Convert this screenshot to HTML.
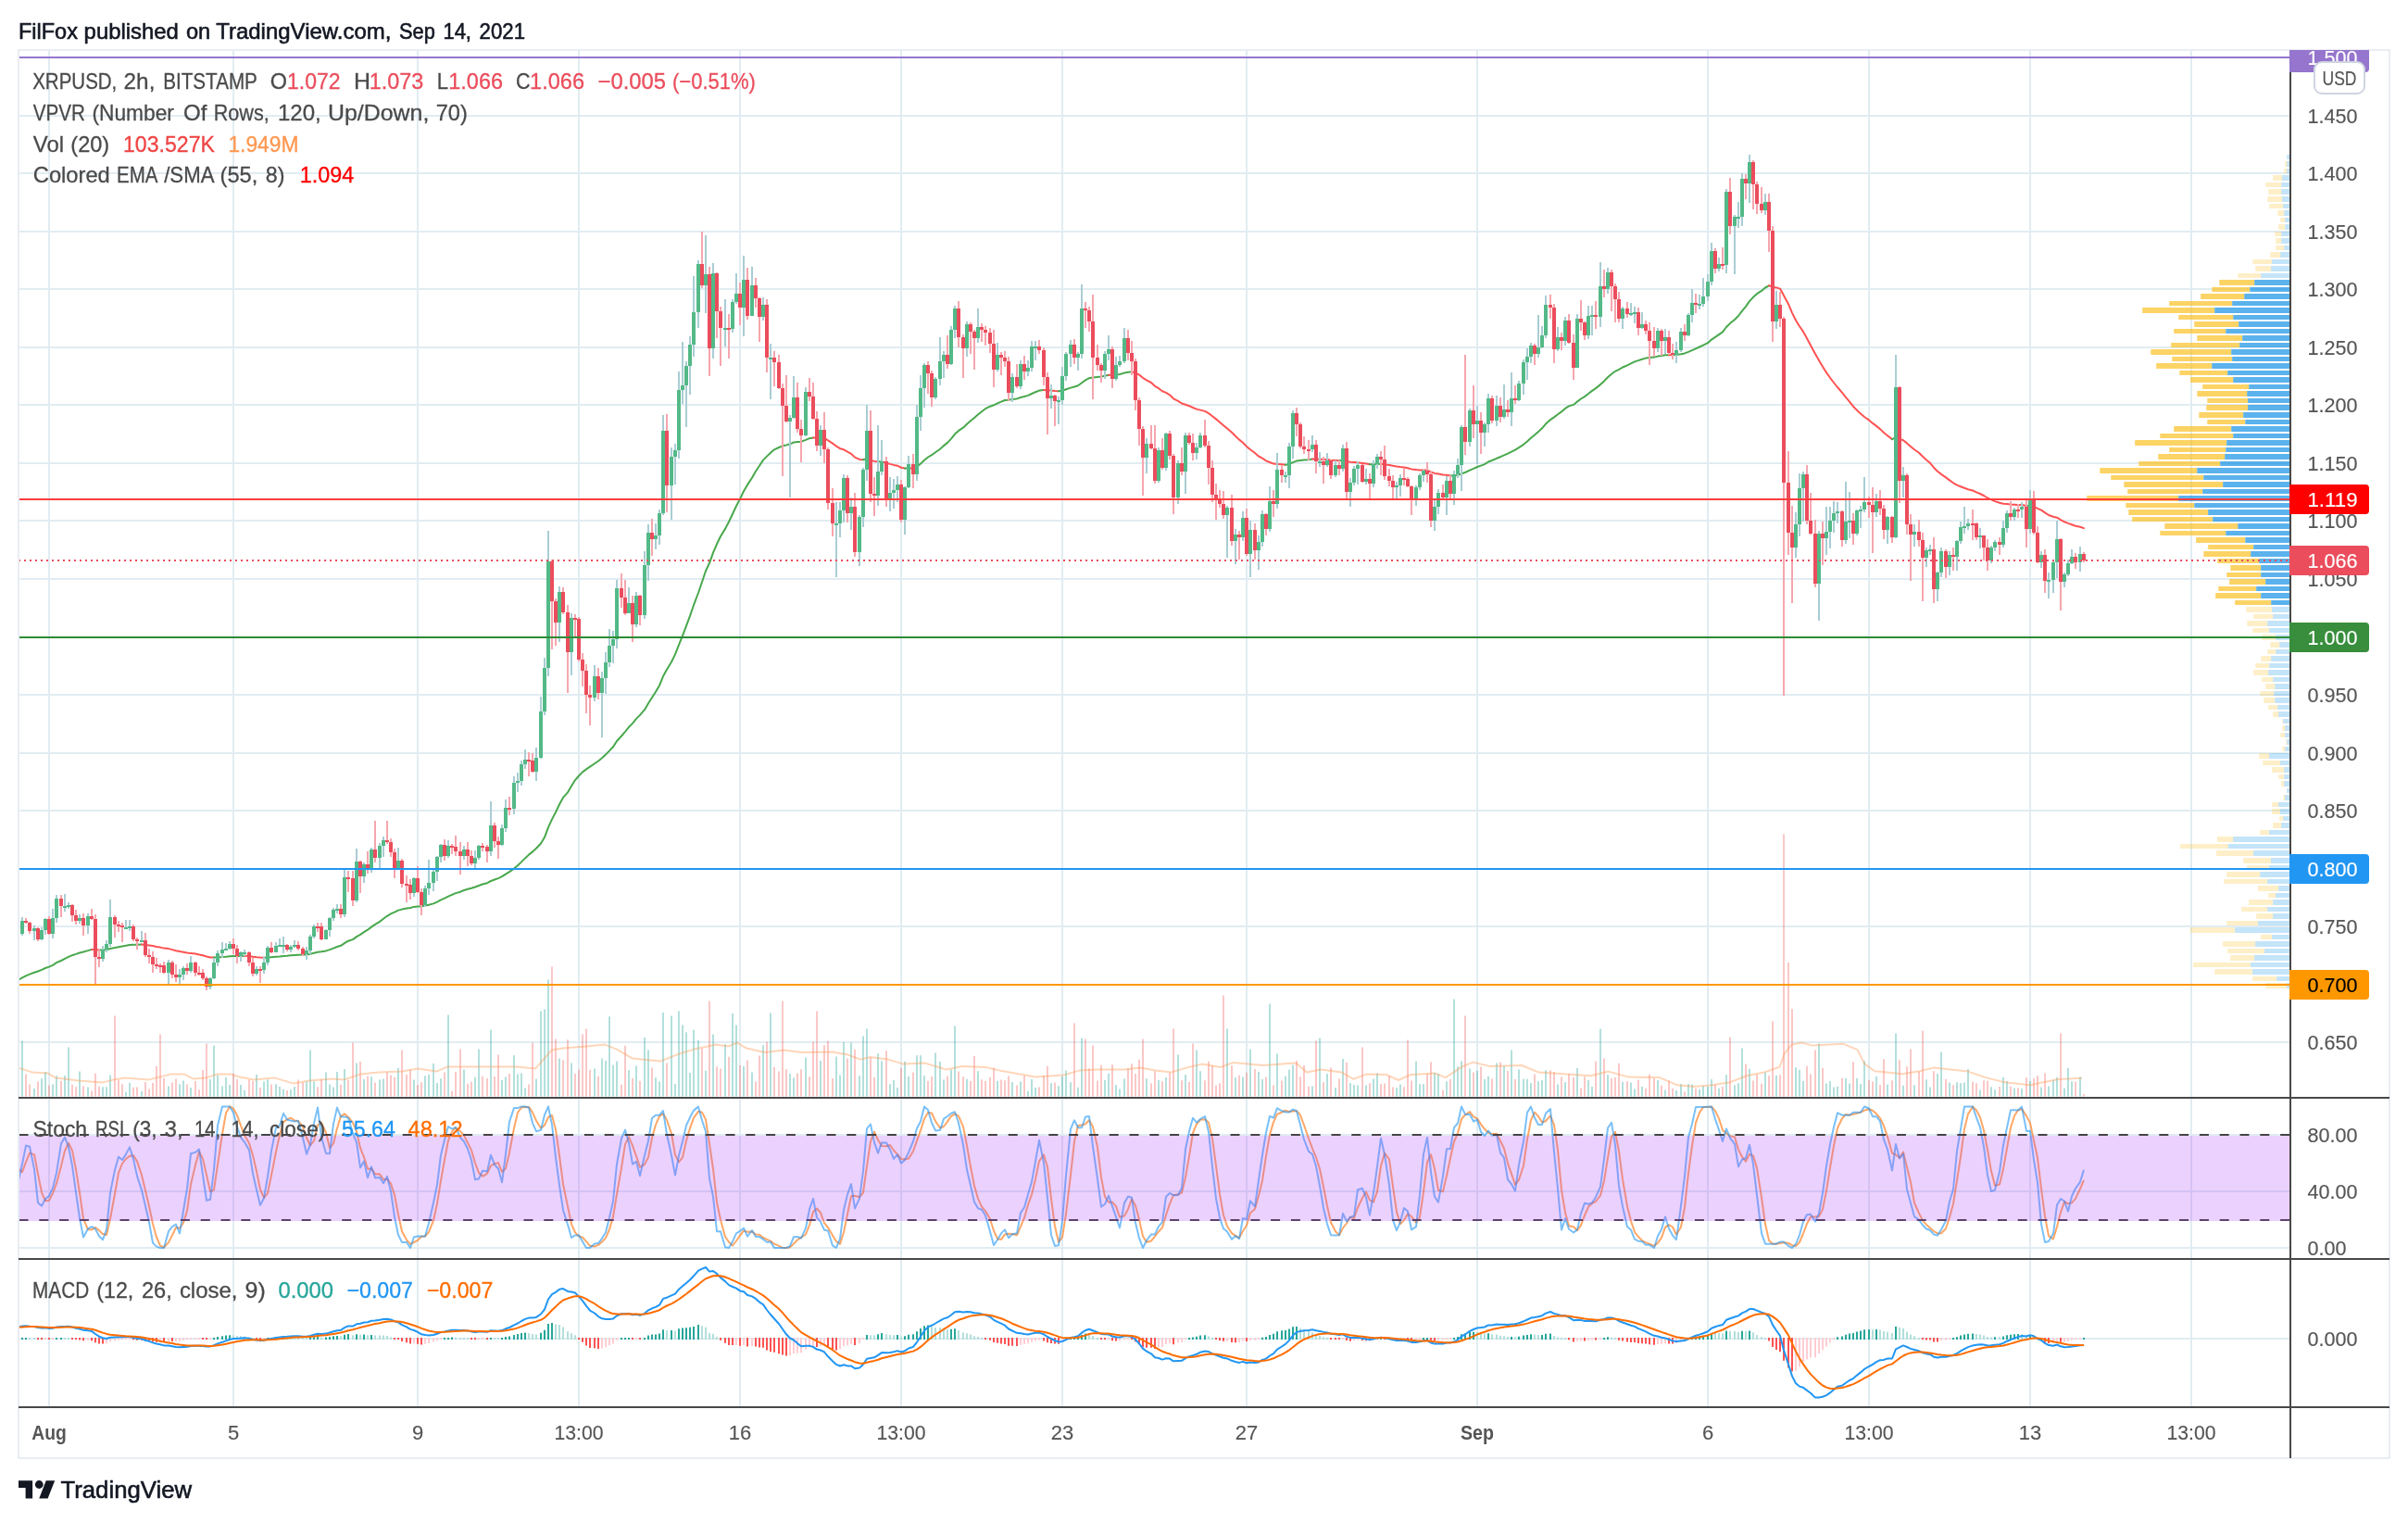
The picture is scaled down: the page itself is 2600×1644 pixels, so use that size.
<!DOCTYPE html>
<html><head><meta charset="utf-8"><title>XRPUSD chart</title><style>html,body{margin:0;padding:0;background:#fff}body{width:2600px;height:1644px;overflow:hidden}</style></head><body>
<svg width="2600" height="1644" viewBox="0 0 2600 1644" style="display:block;will-change:transform">
<defs><clipPath id="cpm"><rect x="21" y="55" width="2451" height="1129"/></clipPath><clipPath id="cps"><rect x="21" y="1186" width="2451" height="172"/></clipPath><clipPath id="cpd"><rect x="21" y="1360" width="2451" height="158"/></clipPath></defs>
<rect width="2600" height="1644" fill="#fff"/>
<path d="M53 55V1518M252 55V1518M451 55V1518M625 55V1518M799 55V1518M973 55V1518M1147 55V1518M1346 55V1518M1595 55V1518M1844 55V1518M2018 55V1518M2192 55V1518M2366 55V1518M21 125H2472M21 187H2472M21 250H2472M21 312H2472M21 375H2472M21 437H2472M21 500H2472M21 562H2472M21 625H2472M21 688H2472M21 750H2472M21 813H2472M21 875H2472M21 938H2472M21 1000H2472M21 1063H2472M21 1125H2472M21 1225H2472M21 1286H2472M21 1347H2472M21 1445H2472" stroke="#e1ecf2" stroke-width="2" fill="none"/>
<rect x="2469.3" y="167" width="0.0" height="5" fill="#fbc123" fill-opacity="0.25"/>
<rect x="2469.3" y="167" width="2.7" height="5" fill="#1592e6" fill-opacity="0.25"/>
<rect x="2467.2" y="174" width="2.1" height="6" fill="#fbc123" fill-opacity="0.25"/>
<rect x="2469.3" y="174" width="2.7" height="6" fill="#1592e6" fill-opacity="0.25"/>
<rect x="2466.3" y="182" width="3.0" height="5" fill="#fbc123" fill-opacity="0.25"/>
<rect x="2469.3" y="182" width="2.7" height="5" fill="#1592e6" fill-opacity="0.25"/>
<rect x="2454.2" y="189" width="10.0" height="6" fill="#fbc123" fill-opacity="0.25"/>
<rect x="2464.1" y="189" width="7.9" height="6" fill="#1592e6" fill-opacity="0.25"/>
<rect x="2446.3" y="197" width="16.9" height="5" fill="#fbc123" fill-opacity="0.25"/>
<rect x="2463.2" y="197" width="8.8" height="5" fill="#1592e6" fill-opacity="0.25"/>
<rect x="2449.3" y="204" width="13.9" height="6" fill="#fbc123" fill-opacity="0.25"/>
<rect x="2463.2" y="204" width="8.8" height="6" fill="#1592e6" fill-opacity="0.25"/>
<rect x="2448.3" y="212" width="15.9" height="6" fill="#fbc123" fill-opacity="0.25"/>
<rect x="2464.1" y="212" width="7.9" height="6" fill="#1592e6" fill-opacity="0.25"/>
<rect x="2450.2" y="220" width="15.0" height="5" fill="#fbc123" fill-opacity="0.25"/>
<rect x="2465.2" y="220" width="6.8" height="5" fill="#1592e6" fill-opacity="0.25"/>
<rect x="2459.3" y="227" width="6.9" height="6" fill="#fbc123" fill-opacity="0.25"/>
<rect x="2466.3" y="227" width="5.7" height="6" fill="#1592e6" fill-opacity="0.25"/>
<rect x="2462.2" y="235" width="5.0" height="5" fill="#fbc123" fill-opacity="0.25"/>
<rect x="2467.2" y="235" width="4.8" height="5" fill="#1592e6" fill-opacity="0.25"/>
<rect x="2460.2" y="242" width="6.9" height="6" fill="#fbc123" fill-opacity="0.25"/>
<rect x="2467.2" y="242" width="4.8" height="6" fill="#1592e6" fill-opacity="0.25"/>
<rect x="2456.3" y="250" width="6.9" height="5" fill="#fbc123" fill-opacity="0.25"/>
<rect x="2463.2" y="250" width="8.8" height="5" fill="#1592e6" fill-opacity="0.25"/>
<rect x="2457.2" y="257" width="6.0" height="6" fill="#fbc123" fill-opacity="0.25"/>
<rect x="2463.2" y="257" width="8.8" height="6" fill="#1592e6" fill-opacity="0.25"/>
<rect x="2457.2" y="265" width="9.1" height="5" fill="#fbc123" fill-opacity="0.25"/>
<rect x="2466.3" y="265" width="5.7" height="5" fill="#1592e6" fill-opacity="0.25"/>
<rect x="2451.3" y="272" width="10.9" height="6" fill="#fbc123" fill-opacity="0.25"/>
<rect x="2462.2" y="272" width="9.8" height="6" fill="#1592e6" fill-opacity="0.25"/>
<rect x="2432.3" y="280" width="20.8" height="5" fill="#fbc123" fill-opacity="0.25"/>
<rect x="2453.1" y="280" width="18.9" height="5" fill="#1592e6" fill-opacity="0.25"/>
<rect x="2435.3" y="287" width="16.9" height="6" fill="#fbc123" fill-opacity="0.25"/>
<rect x="2452.2" y="287" width="19.8" height="6" fill="#1592e6" fill-opacity="0.25"/>
<rect x="2416.3" y="295" width="24.9" height="5" fill="#fbc123" fill-opacity="0.25"/>
<rect x="2441.2" y="295" width="30.8" height="5" fill="#1592e6" fill-opacity="0.25"/>
<rect x="2396.3" y="302" width="37.9" height="6" fill="#fbc123" fill-opacity="0.7"/>
<rect x="2434.2" y="302" width="37.8" height="6" fill="#1592e6" fill-opacity="0.7"/>
<rect x="2388.3" y="310" width="40.9" height="5" fill="#fbc123" fill-opacity="0.7"/>
<rect x="2429.3" y="310" width="42.7" height="5" fill="#1592e6" fill-opacity="0.7"/>
<rect x="2376.2" y="317" width="47.0" height="6" fill="#fbc123" fill-opacity="0.7"/>
<rect x="2423.2" y="317" width="48.8" height="6" fill="#1592e6" fill-opacity="0.7"/>
<rect x="2342.2" y="325" width="68.0" height="5" fill="#fbc123" fill-opacity="0.7"/>
<rect x="2410.2" y="325" width="61.8" height="5" fill="#1592e6" fill-opacity="0.7"/>
<rect x="2313.2" y="332" width="77.9" height="6" fill="#fbc123" fill-opacity="0.7"/>
<rect x="2391.2" y="332" width="80.8" height="6" fill="#1592e6" fill-opacity="0.7"/>
<rect x="2352.2" y="340" width="59.1" height="5" fill="#fbc123" fill-opacity="0.7"/>
<rect x="2411.3" y="340" width="60.7" height="5" fill="#1592e6" fill-opacity="0.7"/>
<rect x="2369.3" y="347" width="47.9" height="6" fill="#fbc123" fill-opacity="0.7"/>
<rect x="2417.2" y="347" width="54.8" height="6" fill="#1592e6" fill-opacity="0.7"/>
<rect x="2347.2" y="355" width="56.0" height="5" fill="#fbc123" fill-opacity="0.7"/>
<rect x="2403.3" y="355" width="68.7" height="5" fill="#1592e6" fill-opacity="0.7"/>
<rect x="2372.3" y="362" width="48.9" height="6" fill="#fbc123" fill-opacity="0.7"/>
<rect x="2421.2" y="362" width="50.8" height="6" fill="#1592e6" fill-opacity="0.7"/>
<rect x="2344.2" y="370" width="74.0" height="5" fill="#fbc123" fill-opacity="0.7"/>
<rect x="2418.2" y="370" width="53.8" height="5" fill="#1592e6" fill-opacity="0.7"/>
<rect x="2322.3" y="377" width="86.9" height="6" fill="#fbc123" fill-opacity="0.7"/>
<rect x="2409.2" y="377" width="62.8" height="6" fill="#1592e6" fill-opacity="0.7"/>
<rect x="2345.3" y="385" width="65.0" height="5" fill="#fbc123" fill-opacity="0.7"/>
<rect x="2410.2" y="385" width="61.8" height="5" fill="#1592e6" fill-opacity="0.7"/>
<rect x="2328.2" y="392" width="60.1" height="6" fill="#fbc123" fill-opacity="0.7"/>
<rect x="2388.3" y="392" width="83.7" height="6" fill="#1592e6" fill-opacity="0.7"/>
<rect x="2353.3" y="400" width="52.0" height="5" fill="#fbc123" fill-opacity="0.7"/>
<rect x="2405.2" y="400" width="66.8" height="5" fill="#1592e6" fill-opacity="0.7"/>
<rect x="2365.2" y="407" width="46.1" height="6" fill="#fbc123" fill-opacity="0.7"/>
<rect x="2411.3" y="407" width="60.7" height="6" fill="#1592e6" fill-opacity="0.7"/>
<rect x="2378.2" y="415" width="50.0" height="5" fill="#fbc123" fill-opacity="0.7"/>
<rect x="2428.2" y="415" width="43.8" height="5" fill="#1592e6" fill-opacity="0.7"/>
<rect x="2372.3" y="422" width="53.9" height="6" fill="#fbc123" fill-opacity="0.7"/>
<rect x="2426.2" y="422" width="45.8" height="6" fill="#1592e6" fill-opacity="0.7"/>
<rect x="2383.3" y="430" width="43.8" height="5" fill="#fbc123" fill-opacity="0.7"/>
<rect x="2427.1" y="430" width="44.9" height="5" fill="#1592e6" fill-opacity="0.7"/>
<rect x="2382.3" y="437" width="44.9" height="6" fill="#fbc123" fill-opacity="0.7"/>
<rect x="2427.1" y="437" width="44.9" height="6" fill="#1592e6" fill-opacity="0.7"/>
<rect x="2374.3" y="445" width="47.9" height="6" fill="#fbc123" fill-opacity="0.7"/>
<rect x="2422.2" y="445" width="49.8" height="6" fill="#1592e6" fill-opacity="0.7"/>
<rect x="2383.3" y="453" width="40.9" height="5" fill="#fbc123" fill-opacity="0.7"/>
<rect x="2424.3" y="453" width="47.7" height="5" fill="#1592e6" fill-opacity="0.7"/>
<rect x="2347.2" y="460" width="61.9" height="6" fill="#fbc123" fill-opacity="0.7"/>
<rect x="2409.2" y="460" width="62.8" height="6" fill="#1592e6" fill-opacity="0.7"/>
<rect x="2332.3" y="468" width="79.0" height="5" fill="#fbc123" fill-opacity="0.7"/>
<rect x="2411.3" y="468" width="60.7" height="5" fill="#1592e6" fill-opacity="0.7"/>
<rect x="2305.2" y="475" width="98.9" height="6" fill="#fbc123" fill-opacity="0.7"/>
<rect x="2404.2" y="475" width="67.8" height="6" fill="#1592e6" fill-opacity="0.7"/>
<rect x="2342.2" y="483" width="61.0" height="5" fill="#fbc123" fill-opacity="0.7"/>
<rect x="2403.3" y="483" width="68.7" height="5" fill="#1592e6" fill-opacity="0.7"/>
<rect x="2330.3" y="490" width="71.9" height="6" fill="#fbc123" fill-opacity="0.7"/>
<rect x="2402.2" y="490" width="69.8" height="6" fill="#1592e6" fill-opacity="0.7"/>
<rect x="2309.3" y="498" width="87.9" height="5" fill="#fbc123" fill-opacity="0.7"/>
<rect x="2397.2" y="498" width="74.8" height="5" fill="#1592e6" fill-opacity="0.7"/>
<rect x="2267.3" y="505" width="105.0" height="6" fill="#fbc123" fill-opacity="0.7"/>
<rect x="2372.3" y="505" width="99.7" height="6" fill="#1592e6" fill-opacity="0.7"/>
<rect x="2279.3" y="513" width="100.0" height="5" fill="#fbc123" fill-opacity="0.7"/>
<rect x="2379.3" y="513" width="92.7" height="5" fill="#1592e6" fill-opacity="0.7"/>
<rect x="2293.3" y="520" width="106.9" height="6" fill="#fbc123" fill-opacity="0.7"/>
<rect x="2400.2" y="520" width="71.8" height="6" fill="#1592e6" fill-opacity="0.7"/>
<rect x="2297.2" y="528" width="81.0" height="5" fill="#fbc123" fill-opacity="0.7"/>
<rect x="2378.2" y="528" width="93.8" height="5" fill="#1592e6" fill-opacity="0.7"/>
<rect x="2253.3" y="535" width="98.9" height="6" fill="#fbc123" fill-opacity="0.7"/>
<rect x="2352.2" y="535" width="119.8" height="6" fill="#1592e6" fill-opacity="0.7"/>
<rect x="2295.3" y="543" width="74.0" height="5" fill="#fbc123" fill-opacity="0.7"/>
<rect x="2369.3" y="543" width="102.7" height="5" fill="#1592e6" fill-opacity="0.7"/>
<rect x="2298.3" y="550" width="86.0" height="6" fill="#fbc123" fill-opacity="0.7"/>
<rect x="2384.2" y="550" width="87.8" height="6" fill="#1592e6" fill-opacity="0.7"/>
<rect x="2302.2" y="558" width="87.0" height="5" fill="#fbc123" fill-opacity="0.7"/>
<rect x="2389.2" y="558" width="82.8" height="5" fill="#1592e6" fill-opacity="0.7"/>
<rect x="2337.3" y="565" width="79.0" height="6" fill="#fbc123" fill-opacity="0.7"/>
<rect x="2416.3" y="565" width="55.7" height="6" fill="#1592e6" fill-opacity="0.7"/>
<rect x="2332.3" y="573" width="71.0" height="5" fill="#fbc123" fill-opacity="0.7"/>
<rect x="2403.3" y="573" width="68.7" height="5" fill="#1592e6" fill-opacity="0.7"/>
<rect x="2371.2" y="580" width="53.0" height="6" fill="#fbc123" fill-opacity="0.7"/>
<rect x="2424.3" y="580" width="47.7" height="6" fill="#1592e6" fill-opacity="0.7"/>
<rect x="2384.2" y="588" width="48.9" height="5" fill="#fbc123" fill-opacity="0.7"/>
<rect x="2433.2" y="588" width="38.8" height="5" fill="#1592e6" fill-opacity="0.7"/>
<rect x="2379.3" y="595" width="50.9" height="6" fill="#fbc123" fill-opacity="0.7"/>
<rect x="2430.2" y="595" width="41.8" height="6" fill="#1592e6" fill-opacity="0.7"/>
<rect x="2394.2" y="603" width="45.0" height="5" fill="#fbc123" fill-opacity="0.7"/>
<rect x="2439.2" y="603" width="32.8" height="5" fill="#1592e6" fill-opacity="0.7"/>
<rect x="2408.3" y="610" width="32.9" height="6" fill="#fbc123" fill-opacity="0.7"/>
<rect x="2441.2" y="610" width="30.8" height="6" fill="#1592e6" fill-opacity="0.7"/>
<rect x="2404.2" y="618" width="37.0" height="5" fill="#fbc123" fill-opacity="0.7"/>
<rect x="2441.2" y="618" width="30.8" height="5" fill="#1592e6" fill-opacity="0.7"/>
<rect x="2407.2" y="625" width="39.0" height="6" fill="#fbc123" fill-opacity="0.7"/>
<rect x="2446.2" y="625" width="25.8" height="6" fill="#1592e6" fill-opacity="0.7"/>
<rect x="2395.3" y="633" width="40.9" height="5" fill="#fbc123" fill-opacity="0.7"/>
<rect x="2436.2" y="633" width="35.8" height="5" fill="#1592e6" fill-opacity="0.7"/>
<rect x="2392.2" y="640" width="48.9" height="6" fill="#fbc123" fill-opacity="0.7"/>
<rect x="2441.2" y="640" width="30.8" height="6" fill="#1592e6" fill-opacity="0.7"/>
<rect x="2413.2" y="648" width="39.0" height="5" fill="#fbc123" fill-opacity="0.7"/>
<rect x="2452.2" y="648" width="19.8" height="5" fill="#1592e6" fill-opacity="0.7"/>
<rect x="2425.2" y="655" width="27.9" height="6" fill="#fbc123" fill-opacity="0.25"/>
<rect x="2453.1" y="655" width="18.9" height="6" fill="#1592e6" fill-opacity="0.25"/>
<rect x="2433.2" y="663" width="21.0" height="5" fill="#fbc123" fill-opacity="0.25"/>
<rect x="2454.2" y="663" width="17.8" height="5" fill="#1592e6" fill-opacity="0.25"/>
<rect x="2426.2" y="670" width="22.1" height="6" fill="#fbc123" fill-opacity="0.25"/>
<rect x="2448.3" y="670" width="23.7" height="6" fill="#1592e6" fill-opacity="0.25"/>
<rect x="2432.3" y="678" width="18.0" height="5" fill="#fbc123" fill-opacity="0.25"/>
<rect x="2450.2" y="678" width="21.8" height="5" fill="#1592e6" fill-opacity="0.25"/>
<rect x="2442.2" y="685" width="15.0" height="6" fill="#fbc123" fill-opacity="0.25"/>
<rect x="2457.2" y="685" width="14.8" height="6" fill="#1592e6" fill-opacity="0.25"/>
<rect x="2451.3" y="693" width="10.0" height="6" fill="#fbc123" fill-opacity="0.25"/>
<rect x="2461.3" y="693" width="10.7" height="6" fill="#1592e6" fill-opacity="0.25"/>
<rect x="2448.3" y="701" width="8.9" height="5" fill="#fbc123" fill-opacity="0.25"/>
<rect x="2457.2" y="701" width="14.8" height="5" fill="#1592e6" fill-opacity="0.25"/>
<rect x="2441.2" y="708" width="11.0" height="6" fill="#fbc123" fill-opacity="0.25"/>
<rect x="2452.2" y="708" width="19.8" height="6" fill="#1592e6" fill-opacity="0.25"/>
<rect x="2435.3" y="716" width="15.0" height="5" fill="#fbc123" fill-opacity="0.25"/>
<rect x="2450.2" y="716" width="21.8" height="5" fill="#1592e6" fill-opacity="0.25"/>
<rect x="2433.2" y="723" width="16.0" height="6" fill="#fbc123" fill-opacity="0.25"/>
<rect x="2449.2" y="723" width="22.8" height="6" fill="#1592e6" fill-opacity="0.25"/>
<rect x="2442.2" y="731" width="11.9" height="5" fill="#fbc123" fill-opacity="0.25"/>
<rect x="2454.2" y="731" width="17.8" height="5" fill="#1592e6" fill-opacity="0.25"/>
<rect x="2446.2" y="738" width="10.1" height="6" fill="#fbc123" fill-opacity="0.25"/>
<rect x="2456.3" y="738" width="15.7" height="6" fill="#1592e6" fill-opacity="0.25"/>
<rect x="2440.3" y="746" width="15.0" height="5" fill="#fbc123" fill-opacity="0.25"/>
<rect x="2455.2" y="746" width="16.8" height="5" fill="#1592e6" fill-opacity="0.25"/>
<rect x="2444.2" y="753" width="12.1" height="6" fill="#fbc123" fill-opacity="0.25"/>
<rect x="2456.3" y="753" width="15.7" height="6" fill="#1592e6" fill-opacity="0.25"/>
<rect x="2449.2" y="761" width="10.0" height="5" fill="#fbc123" fill-opacity="0.25"/>
<rect x="2459.2" y="761" width="12.8" height="5" fill="#1592e6" fill-opacity="0.25"/>
<rect x="2454.2" y="768" width="6.0" height="6" fill="#fbc123" fill-opacity="0.25"/>
<rect x="2460.2" y="768" width="11.8" height="6" fill="#1592e6" fill-opacity="0.25"/>
<rect x="2464.3" y="776" width="0.9" height="5" fill="#fbc123" fill-opacity="0.25"/>
<rect x="2465.2" y="776" width="6.8" height="5" fill="#1592e6" fill-opacity="0.25"/>
<rect x="2464.3" y="783" width="2.9" height="6" fill="#fbc123" fill-opacity="0.25"/>
<rect x="2467.2" y="783" width="4.8" height="6" fill="#1592e6" fill-opacity="0.25"/>
<rect x="2462.2" y="791" width="5.0" height="5" fill="#fbc123" fill-opacity="0.25"/>
<rect x="2467.2" y="791" width="4.8" height="5" fill="#1592e6" fill-opacity="0.25"/>
<rect x="2468.2" y="798" width="1.1" height="6" fill="#fbc123" fill-opacity="0.25"/>
<rect x="2469.3" y="798" width="2.7" height="6" fill="#1592e6" fill-opacity="0.25"/>
<rect x="2464.3" y="806" width="2.9" height="5" fill="#fbc123" fill-opacity="0.25"/>
<rect x="2467.2" y="806" width="4.8" height="5" fill="#1592e6" fill-opacity="0.25"/>
<rect x="2439.1" y="813" width="10.9" height="6" fill="#fbc123" fill-opacity="0.25"/>
<rect x="2450.0" y="813" width="22.0" height="6" fill="#1592e6" fill-opacity="0.25"/>
<rect x="2443.2" y="821" width="18.8" height="5" fill="#fbc123" fill-opacity="0.25"/>
<rect x="2461.9" y="821" width="10.1" height="5" fill="#1592e6" fill-opacity="0.25"/>
<rect x="2453.1" y="828" width="13.1" height="6" fill="#fbc123" fill-opacity="0.25"/>
<rect x="2466.2" y="828" width="5.8" height="6" fill="#1592e6" fill-opacity="0.25"/>
<rect x="2460.2" y="836" width="6.0" height="5" fill="#fbc123" fill-opacity="0.25"/>
<rect x="2466.2" y="836" width="5.8" height="5" fill="#1592e6" fill-opacity="0.25"/>
<rect x="2463.1" y="843" width="3.1" height="6" fill="#fbc123" fill-opacity="0.25"/>
<rect x="2466.2" y="843" width="5.8" height="6" fill="#1592e6" fill-opacity="0.25"/>
<rect x="2469.1" y="851" width="0.0" height="5" fill="#fbc123" fill-opacity="0.25"/>
<rect x="2469.1" y="851" width="2.9" height="5" fill="#1592e6" fill-opacity="0.25"/>
<rect x="2465.2" y="858" width="1.9" height="6" fill="#fbc123" fill-opacity="0.25"/>
<rect x="2467.0" y="858" width="5.0" height="6" fill="#1592e6" fill-opacity="0.25"/>
<rect x="2453.1" y="866" width="7.2" height="5" fill="#fbc123" fill-opacity="0.25"/>
<rect x="2460.2" y="866" width="11.8" height="5" fill="#1592e6" fill-opacity="0.25"/>
<rect x="2453.1" y="873" width="8.9" height="6" fill="#fbc123" fill-opacity="0.25"/>
<rect x="2461.9" y="873" width="10.1" height="6" fill="#1592e6" fill-opacity="0.25"/>
<rect x="2461.1" y="881" width="4.1" height="5" fill="#fbc123" fill-opacity="0.25"/>
<rect x="2465.2" y="881" width="6.8" height="5" fill="#1592e6" fill-opacity="0.25"/>
<rect x="2454.1" y="888" width="9.0" height="6" fill="#fbc123" fill-opacity="0.25"/>
<rect x="2463.1" y="888" width="8.9" height="6" fill="#1592e6" fill-opacity="0.25"/>
<rect x="2440.1" y="896" width="9.9" height="5" fill="#fbc123" fill-opacity="0.25"/>
<rect x="2450.0" y="896" width="22.0" height="5" fill="#1592e6" fill-opacity="0.25"/>
<rect x="2394.0" y="903" width="17.1" height="6" fill="#fbc123" fill-opacity="0.25"/>
<rect x="2411.1" y="903" width="60.9" height="6" fill="#1592e6" fill-opacity="0.25"/>
<rect x="2354.0" y="911" width="51.9" height="5" fill="#fbc123" fill-opacity="0.25"/>
<rect x="2405.9" y="911" width="66.1" height="5" fill="#1592e6" fill-opacity="0.25"/>
<rect x="2393.1" y="918" width="39.9" height="6" fill="#fbc123" fill-opacity="0.25"/>
<rect x="2433.1" y="918" width="38.9" height="6" fill="#1592e6" fill-opacity="0.25"/>
<rect x="2422.2" y="926" width="29.9" height="6" fill="#fbc123" fill-opacity="0.25"/>
<rect x="2452.0" y="926" width="20.0" height="6" fill="#1592e6" fill-opacity="0.25"/>
<rect x="2426.1" y="934" width="23.9" height="5" fill="#fbc123" fill-opacity="0.25"/>
<rect x="2450.0" y="934" width="22.0" height="5" fill="#1592e6" fill-opacity="0.25"/>
<rect x="2404.1" y="941" width="36.0" height="6" fill="#fbc123" fill-opacity="0.25"/>
<rect x="2440.1" y="941" width="31.9" height="6" fill="#1592e6" fill-opacity="0.25"/>
<rect x="2401.2" y="949" width="46.9" height="5" fill="#fbc123" fill-opacity="0.25"/>
<rect x="2448.1" y="949" width="23.9" height="5" fill="#1592e6" fill-opacity="0.25"/>
<rect x="2438.0" y="956" width="22.2" height="6" fill="#fbc123" fill-opacity="0.25"/>
<rect x="2460.2" y="956" width="11.8" height="6" fill="#1592e6" fill-opacity="0.25"/>
<rect x="2449.1" y="964" width="8.0" height="5" fill="#fbc123" fill-opacity="0.25"/>
<rect x="2457.1" y="964" width="14.9" height="5" fill="#1592e6" fill-opacity="0.25"/>
<rect x="2428.1" y="971" width="25.9" height="6" fill="#fbc123" fill-opacity="0.25"/>
<rect x="2454.1" y="971" width="17.9" height="6" fill="#1592e6" fill-opacity="0.25"/>
<rect x="2420.1" y="979" width="28.0" height="5" fill="#fbc123" fill-opacity="0.25"/>
<rect x="2448.1" y="979" width="23.9" height="5" fill="#1592e6" fill-opacity="0.25"/>
<rect x="2436.2" y="986" width="17.9" height="6" fill="#fbc123" fill-opacity="0.25"/>
<rect x="2454.1" y="986" width="17.9" height="6" fill="#1592e6" fill-opacity="0.25"/>
<rect x="2404.1" y="994" width="34.0" height="5" fill="#fbc123" fill-opacity="0.25"/>
<rect x="2438.0" y="994" width="34.0" height="5" fill="#1592e6" fill-opacity="0.25"/>
<rect x="2365.0" y="1001" width="48.1" height="6" fill="#fbc123" fill-opacity="0.25"/>
<rect x="2413.1" y="1001" width="58.9" height="6" fill="#1592e6" fill-opacity="0.25"/>
<rect x="2441.1" y="1009" width="11.9" height="5" fill="#fbc123" fill-opacity="0.25"/>
<rect x="2453.1" y="1009" width="18.9" height="5" fill="#1592e6" fill-opacity="0.25"/>
<rect x="2400.1" y="1016" width="35.0" height="6" fill="#fbc123" fill-opacity="0.25"/>
<rect x="2435.1" y="1016" width="36.9" height="6" fill="#1592e6" fill-opacity="0.25"/>
<rect x="2405.1" y="1024" width="39.9" height="5" fill="#fbc123" fill-opacity="0.25"/>
<rect x="2445.0" y="1024" width="27.0" height="5" fill="#1592e6" fill-opacity="0.25"/>
<rect x="2408.2" y="1031" width="25.9" height="6" fill="#fbc123" fill-opacity="0.25"/>
<rect x="2434.1" y="1031" width="37.9" height="6" fill="#1592e6" fill-opacity="0.25"/>
<rect x="2368.0" y="1039" width="62.0" height="5" fill="#fbc123" fill-opacity="0.25"/>
<rect x="2430.0" y="1039" width="42.0" height="5" fill="#1592e6" fill-opacity="0.25"/>
<rect x="2391.1" y="1046" width="41.0" height="6" fill="#fbc123" fill-opacity="0.25"/>
<rect x="2432.1" y="1046" width="39.9" height="6" fill="#1592e6" fill-opacity="0.25"/>
<rect x="2432.1" y="1054" width="26.1" height="5" fill="#fbc123" fill-opacity="0.25"/>
<rect x="2458.2" y="1054" width="13.8" height="5" fill="#1592e6" fill-opacity="0.25"/>
<rect x="2446.1" y="1061" width="23.0" height="6" fill="#fbc123" fill-opacity="0.25"/>
<rect x="2469.1" y="1061" width="2.9" height="6" fill="#1592e6" fill-opacity="0.25"/>
<g clip-path="url(#cpm)"><path d="M24 1183.6V1123.6M37 1183.6V1175.1M45 1183.6V1164.3M49 1183.6V1157.0M57 1183.6V1170.6M61 1183.6V1161.2M70 1183.6V1161.0M74 1183.6V1130.6M86 1183.6V1156.6M95 1183.6V1173.6M111 1183.6V1173.2M115 1183.6V1173.3M119 1183.6V1160.6M136 1183.6V1178.8M140 1183.6V1168.8M153 1183.6V1177.9M182 1183.6V1172.6M194 1183.6V1170.3M198 1183.6V1166.4M206 1183.6V1174.0M227 1183.6V1165.1M231 1183.6V1128.6M235 1183.6V1160.4M240 1183.6V1172.6M244 1183.6V1163.1M248 1183.6V1170.9M260 1183.6V1171.1M264 1183.6V1176.8M277 1183.6V1160.1M285 1183.6V1167.6M289 1183.6V1165.3M298 1183.6V1170.3M302 1183.6V1172.9M306 1183.6V1175.7M314 1183.6V1176.2M318 1183.6V1173.0M331 1183.6V1167.4M335 1183.6V1133.6M339 1183.6V1167.2M352 1183.6V1157.4M356 1183.6V1170.5M360 1183.6V1173.5M364 1183.6V1156.9M372 1183.6V1154.1M385 1183.6V1147.5M393 1183.6V1165.1M401 1183.6V1162.3M410 1183.6V1165.5M414 1183.6V1164.6M430 1183.6V1152.8M447 1183.6V1165.6M459 1183.6V1161.2M463 1183.6V1160.1M468 1183.6V1148.1M472 1183.6V1169.1M476 1183.6V1164.2M484 1183.6V1095.6M501 1183.6V1154.4M513 1183.6V1162.8M517 1183.6V1132.4M530 1183.6V1111.6M542 1183.6V1166.1M546 1183.6V1162.4M555 1183.6V1139.2M559 1183.6V1159.5M563 1183.6V1158.4M567 1183.6V1174.4M579 1183.6V1164.5M584 1183.6V1091.6M588 1183.6V1089.6M592 1183.6V1057.6M604 1183.6V1142.4M617 1183.6V1147.5M642 1183.6V1153.6M650 1183.6V1142.5M654 1183.6V1145.0M658 1183.6V1097.2M662 1183.6V1149.8M666 1183.6V1145.4M679 1183.6V1155.3M687 1183.6V1150.6M696 1183.6V1120.0M700 1183.6V1133.6M708 1183.6V1163.2M712 1183.6V1167.4M716 1183.6V1092.9M725 1183.6V1096.6M729 1183.6V1169.9M733 1183.6V1091.6M737 1183.6V1106.6M741 1183.6V1114.2M745 1183.6V1157.9M749 1183.6V1111.6M754 1183.6V1122.9M762 1183.6V1155.8M770 1183.6V1116.6M783 1183.6V1127.1M791 1183.6V1094.1M795 1183.6V1106.6M803 1183.6V1150.8M812 1183.6V1157.5M824 1183.6V1128.3M832 1183.6V1093.6M853 1183.6V1159.1M857 1183.6V1163.5M870 1183.6V1141.5M886 1183.6V1144.9M903 1183.6V1140.4M907 1183.6V1160.5M911 1183.6V1124.9M919 1183.6V1125.6M928 1183.6V1161.3M932 1183.6V1118.6M936 1183.6V1110.6M948 1183.6V1137.2M952 1183.6V1145.3M961 1183.6V1170.2M965 1183.6V1166.1M969 1183.6V1173.9M977 1183.6V1145.8M981 1183.6V1162.1M990 1183.6V1139.3M994 1183.6V1139.3M998 1183.6V1161.0M1010 1183.6V1136.4M1015 1183.6V1145.9M1019 1183.6V1165.6M1027 1183.6V1154.5M1031 1183.6V1107.6M1044 1183.6V1164.8M1056 1183.6V1156.3M1077 1183.6V1166.7M1093 1183.6V1168.1M1102 1183.6V1167.6M1110 1183.6V1177.8M1114 1183.6V1165.1M1118 1183.6V1173.9M1135 1183.6V1169.3M1143 1183.6V1172.3M1147 1183.6V1162.0M1151 1183.6V1155.6M1156 1183.6V1168.2M1164 1183.6V1173.7M1168 1183.6V1120.6M1193 1183.6V1166.1M1197 1183.6V1158.8M1205 1183.6V1170.9M1209 1183.6V1175.6M1214 1183.6V1164.6M1238 1183.6V1164.3M1251 1183.6V1165.9M1259 1183.6V1162.9M1272 1183.6V1138.6M1280 1183.6V1160.0M1292 1183.6V1133.4M1296 1183.6V1156.3M1325 1183.6V1110.6M1334 1183.6V1163.3M1342 1183.6V1162.6M1350 1183.6V1132.7M1359 1183.6V1156.8M1363 1183.6V1165.0M1371 1183.6V1083.6M1379 1183.6V1137.5M1388 1183.6V1161.8M1392 1183.6V1154.4M1396 1183.6V1149.4M1417 1183.6V1172.4M1425 1183.6V1120.6M1433 1183.6V1159.1M1442 1183.6V1174.1M1450 1183.6V1143.1M1458 1183.6V1169.0M1462 1183.6V1170.9M1466 1183.6V1171.4M1475 1183.6V1171.4M1483 1183.6V1164.6M1487 1183.6V1158.6M1508 1183.6V1174.2M1512 1183.6V1170.4M1529 1183.6V1145.5M1533 1183.6V1170.3M1537 1183.6V1170.3M1549 1183.6V1158.1M1553 1183.6V1159.0M1562 1183.6V1167.6M1570 1183.6V1078.6M1574 1183.6V1151.3M1578 1183.6V1145.5M1587 1183.6V1153.4M1595 1183.6V1155.8M1603 1183.6V1165.1M1607 1183.6V1161.8M1616 1183.6V1147.6M1624 1183.6V1150.7M1632 1183.6V1133.6M1640 1183.6V1154.2M1645 1183.6V1164.5M1649 1183.6V1164.8M1653 1183.6V1168.9M1661 1183.6V1167.3M1665 1183.6V1166.1M1669 1183.6V1155.2M1682 1183.6V1170.4M1690 1183.6V1168.2M1703 1183.6V1153.1M1715 1183.6V1166.0M1719 1183.6V1173.0M1728 1183.6V1110.6M1736 1183.6V1160.1M1752 1183.6V1167.7M1761 1183.6V1168.6M1765 1183.6V1175.5M1773 1183.6V1173.1M1790 1183.6V1165.9M1798 1183.6V1176.6M1810 1183.6V1177.1M1815 1183.6V1170.3M1823 1183.6V1170.1M1827 1183.6V1170.6M1835 1183.6V1175.8M1839 1183.6V1172.2M1844 1183.6V1173.1M1848 1183.6V1164.9M1856 1183.6V1174.8M1864 1183.6V1160.2M1873 1183.6V1171.2M1877 1183.6V1169.2M1881 1183.6V1131.6M1889 1183.6V1153.8M1906 1183.6V1157.6M1918 1183.6V1161.0M1939 1183.6V1152.2M1943 1183.6V1154.7M1947 1183.6V1166.8M1964 1183.6V1126.6M1972 1183.6V1169.4M1976 1183.6V1167.1M1980 1183.6V1173.5M1984 1183.6V1172.8M1993 1183.6V1163.8M1997 1183.6V1169.6M2005 1183.6V1164.0M2009 1183.6V1170.1M2013 1183.6V1145.2M2026 1183.6V1162.1M2038 1183.6V1170.5M2047 1183.6V1115.6M2055 1183.6V1171.7M2067 1183.6V1171.2M2080 1183.6V1165.2M2084 1183.6V1173.6M2092 1183.6V1159.0M2096 1183.6V1135.5M2105 1183.6V1168.6M2113 1183.6V1168.3M2117 1183.6V1169.3M2121 1183.6V1168.5M2125 1183.6V1154.1M2138 1183.6V1176.4M2150 1183.6V1173.3M2154 1183.6V1176.2M2163 1183.6V1163.0M2167 1183.6V1166.9M2175 1183.6V1174.4M2183 1183.6V1174.9M2192 1183.6V1167.1M2204 1183.6V1173.6M2212 1183.6V1172.4M2217 1183.6V1166.0M2221 1183.6V1162.7M2229 1183.6V1174.7M2233 1183.6V1152.9M2237 1183.6V1167.3M2246 1183.6V1162.6" stroke="#26a69a" stroke-opacity="0.35" stroke-width="2" fill="none"/>
<path d="M28 1183.6V1159.6M32 1183.6V1170.4M41 1183.6V1167.4M53 1183.6V1171.5M66 1183.6V1167.0M78 1183.6V1170.8M82 1183.6V1173.2M90 1183.6V1172.2M99 1183.6V1177.5M103 1183.6V1158.7M107 1183.6V1172.8M124 1183.6V1096.6M128 1183.6V1165.8M132 1183.6V1170.3M144 1183.6V1173.8M148 1183.6V1173.5M157 1183.6V1167.9M161 1183.6V1175.5M165 1183.6V1168.9M169 1183.6V1151.1M173 1183.6V1116.6M177 1183.6V1163.7M186 1183.6V1168.4M190 1183.6V1164.6M202 1183.6V1170.5M211 1183.6V1166.9M215 1183.6V1176.3M219 1183.6V1155.1M223 1183.6V1126.6M252 1183.6V1158.8M256 1183.6V1165.0M269 1183.6V1165.6M273 1183.6V1167.1M281 1183.6V1174.1M293 1183.6V1170.4M310 1183.6V1177.1M322 1183.6V1165.5M327 1183.6V1168.6M343 1183.6V1173.2M347 1183.6V1165.1M368 1183.6V1170.8M376 1183.6V1165.7M381 1183.6V1125.6M389 1183.6V1145.9M397 1183.6V1161.8M405 1183.6V1168.6M418 1183.6V1157.6M422 1183.6V1160.4M426 1183.6V1162.8M434 1183.6V1133.6M439 1183.6V1160.1M443 1183.6V1154.4M451 1183.6V1171.0M455 1183.6V1168.3M480 1183.6V1157.4M488 1183.6V1178.0M492 1183.6V1156.9M497 1183.6V1132.4M505 1183.6V1169.7M509 1183.6V1167.7M521 1183.6V1161.7M526 1183.6V1164.1M534 1183.6V1161.9M538 1183.6V1138.5M550 1183.6V1159.0M571 1183.6V1170.6M575 1183.6V1125.6M596 1183.6V1043.6M600 1183.6V1121.6M608 1183.6V1144.2M613 1183.6V1122.3M621 1183.6V1159.0M625 1183.6V1154.7M629 1183.6V1116.4M633 1183.6V1110.6M637 1183.6V1154.7M646 1183.6V1161.8M671 1183.6V1170.8M675 1183.6V1128.7M683 1183.6V1164.1M691 1183.6V1166.8M704 1183.6V1152.4M720 1183.6V1147.5M758 1183.6V1131.4M766 1183.6V1080.6M774 1183.6V1151.2M778 1183.6V1153.6M787 1183.6V1140.8M799 1183.6V1150.1M807 1183.6V1144.6M816 1183.6V1167.5M820 1183.6V1139.6M828 1183.6V1124.4M836 1183.6V1151.7M841 1183.6V1156.6M845 1183.6V1080.6M849 1183.6V1154.2M861 1183.6V1158.4M865 1183.6V1154.3M874 1183.6V1162.3M878 1183.6V1124.4M882 1183.6V1091.6M890 1183.6V1128.3M894 1183.6V1123.6M899 1183.6V1164.0M915 1183.6V1142.6M923 1183.6V1133.1M940 1183.6V1141.3M944 1183.6V1162.7M957 1183.6V1134.2M973 1183.6V1152.7M986 1183.6V1157.5M1002 1183.6V1166.8M1006 1183.6V1162.0M1023 1183.6V1161.6M1035 1183.6V1156.5M1040 1183.6V1162.3M1048 1183.6V1166.9M1052 1183.6V1140.0M1060 1183.6V1165.3M1064 1183.6V1167.1M1069 1183.6V1162.7M1073 1183.6V1152.5M1081 1183.6V1165.5M1085 1183.6V1166.2M1089 1183.6V1161.4M1098 1183.6V1171.5M1106 1183.6V1161.0M1122 1183.6V1173.6M1127 1183.6V1160.9M1131 1183.6V1150.8M1139 1183.6V1168.5M1160 1183.6V1104.6M1172 1183.6V1121.6M1176 1183.6V1153.3M1180 1183.6V1128.6M1185 1183.6V1166.5M1189 1183.6V1149.7M1201 1183.6V1149.3M1218 1183.6V1153.3M1222 1183.6V1148.3M1226 1183.6V1159.1M1230 1183.6V1143.7M1234 1183.6V1121.6M1243 1183.6V1169.4M1247 1183.6V1156.2M1255 1183.6V1167.3M1263 1183.6V1158.1M1267 1183.6V1110.6M1276 1183.6V1166.3M1284 1183.6V1168.0M1288 1183.6V1126.6M1301 1183.6V1166.3M1305 1183.6V1145.8M1309 1183.6V1150.2M1313 1183.6V1171.4M1317 1183.6V1169.3M1321 1183.6V1074.6M1330 1183.6V1150.0M1338 1183.6V1160.7M1346 1183.6V1157.8M1355 1183.6V1154.1M1367 1183.6V1162.4M1375 1183.6V1171.5M1384 1183.6V1166.6M1400 1183.6V1145.0M1404 1183.6V1162.3M1408 1183.6V1149.9M1413 1183.6V1172.7M1421 1183.6V1123.6M1429 1183.6V1168.2M1437 1183.6V1152.5M1446 1183.6V1164.4M1454 1183.6V1146.8M1471 1183.6V1130.6M1479 1183.6V1169.2M1491 1183.6V1170.0M1495 1183.6V1169.6M1500 1183.6V1161.5M1504 1183.6V1173.5M1516 1183.6V1173.2M1520 1183.6V1122.6M1524 1183.6V1166.4M1541 1183.6V1159.0M1545 1183.6V1146.2M1558 1183.6V1176.8M1566 1183.6V1164.9M1582 1183.6V1096.6M1591 1183.6V1157.5M1599 1183.6V1151.5M1611 1183.6V1164.5M1620 1183.6V1146.5M1628 1183.6V1156.0M1636 1183.6V1165.1M1657 1183.6V1159.4M1674 1183.6V1155.3M1678 1183.6V1157.0M1686 1183.6V1162.6M1694 1183.6V1159.3M1699 1183.6V1163.0M1707 1183.6V1174.7M1711 1183.6V1162.3M1723 1183.6V1145.5M1732 1183.6V1142.6M1740 1183.6V1164.0M1744 1183.6V1162.9M1748 1183.6V1147.7M1757 1183.6V1167.3M1769 1183.6V1165.6M1777 1183.6V1174.9M1781 1183.6V1159.7M1786 1183.6V1164.1M1794 1183.6V1171.7M1802 1183.6V1166.4M1806 1183.6V1174.7M1819 1183.6V1178.3M1831 1183.6V1175.0M1852 1183.6V1170.8M1860 1183.6V1172.9M1868 1183.6V1119.6M1885 1183.6V1148.4M1893 1183.6V1166.5M1897 1183.6V1159.8M1902 1183.6V1169.8M1910 1183.6V1161.0M1914 1183.6V1102.6M1922 1183.6V1160.3M1926 1183.6V900.6M1931 1183.6V1039.0M1935 1183.6V1089.1M1951 1183.6V1150.8M1955 1183.6V1159.4M1960 1183.6V1133.6M1968 1183.6V1152.7M1989 1183.6V1163.8M2001 1183.6V1146.3M2018 1183.6V1165.8M2022 1183.6V1167.6M2030 1183.6V1171.1M2034 1183.6V1143.3M2043 1183.6V1166.2M2051 1183.6V1144.2M2059 1183.6V1151.2M2063 1183.6V1132.6M2072 1183.6V1156.7M2076 1183.6V1112.6M2088 1183.6V1156.3M2101 1183.6V1165.0M2109 1183.6V1171.2M2130 1183.6V1167.8M2134 1183.6V1169.3M2142 1183.6V1166.3M2146 1183.6V1166.7M2159 1183.6V1173.1M2171 1183.6V1172.7M2179 1183.6V1174.2M2188 1183.6V1163.2M2196 1183.6V1164.2M2200 1183.6V1161.2M2208 1183.6V1158.4M2225 1183.6V1115.6M2241 1183.6V1167.5M2250 1183.6V1181.1" stroke="#ef5350" stroke-opacity="0.32" stroke-width="2" fill="none"/>
<path d="M20.0 1152.6 L35.0 1157.6 L52.0 1158.6 L60.0 1163.6 L85.0 1166.6 L110.0 1168.6 L122.0 1165.6 L135.0 1163.6 L160.0 1165.6 L184.0 1159.6 L199.0 1159.6 L209.0 1164.6 L222.0 1163.6 L234.0 1159.6 L249.0 1159.6 L259.0 1162.6 L274.0 1165.6 L297.0 1163.6 L317.0 1169.6 L334.0 1166.6 L359.0 1164.6 L371.0 1165.6 L389.0 1159.6 L409.0 1157.6 L434.0 1156.6 L451.0 1153.6 L471.0 1156.6 L483.0 1151.6 L508.0 1151.6 L533.0 1151.6 L558.0 1151.6 L578.0 1153.6 L595.6 1133.6 L608.0 1131.6 L633.0 1129.6 L653.0 1127.6 L666.0 1132.6 L683.0 1142.6 L713.0 1145.6 L733.0 1137.6 L749.5 1132.6 L773.0 1127.6 L786.0 1129.6 L796.0 1125.6 L806.0 1131.6 L826.0 1136.1 L846.0 1133.6 L866.0 1136.1 L899.0 1135.6 L915.6 1138.6 L929.0 1143.6 L939.0 1141.1 L959.0 1143.6 L975.4 1148.6 L998.7 1147.6 L1022.0 1154.6 L1038.5 1151.1 L1065.0 1152.1 L1081.7 1156.1 L1118.0 1162.6 L1148.0 1160.6 L1165.0 1155.6 L1184.7 1154.6 L1214.6 1154.6 L1231.0 1152.6 L1248.0 1155.6 L1264.5 1157.6 L1281.0 1152.6 L1297.7 1148.6 L1317.6 1152.1 L1331.0 1147.1 L1364.0 1150.1 L1397.0 1147.6 L1400.0 1148.1 L1411.0 1157.6 L1426.0 1154.6 L1448.6 1157.6 L1461.7 1164.9 L1474.7 1159.6 L1497.0 1160.1 L1510.0 1166.0 L1523.0 1160.1 L1549.5 1158.6 L1560.7 1163.1 L1579.4 1151.1 L1590.6 1146.6 L1609.0 1151.1 L1643.0 1150.0 L1661.6 1157.6 L1691.5 1159.6 L1717.7 1161.2 L1736.4 1156.6 L1758.8 1162.6 L1792.0 1163.1 L1811.0 1171.3 L1829.8 1173.1 L1848.5 1171.3 L1867.0 1168.6 L1886.0 1161.2 L1904.6 1157.6 L1921.4 1151.8 L1927.0 1136.9 L1934.5 1127.6 L1945.7 1125.6 L1957.0 1128.6 L1990.5 1126.8 L2005.5 1133.1 L2013.0 1148.1 L2024.0 1156.3 L2054.0 1159.3 L2072.7 1156.3 L2087.7 1152.6 L2125.0 1156.6 L2143.8 1163.1 L2166.0 1168.6 L2192.0 1171.3 L2222.0 1164.9 L2248.0 1163.8" stroke="#ff9850" stroke-opacity="0.4" stroke-width="2" fill="none" stroke-linejoin="round"/></g>
<g clip-path="url(#cpm)">
<path d="M20 1057.7 L24 1055.4 L28 1053.3 L32 1051.6 L37 1049.8 L41 1048.5 L45 1046.9 L49 1045.0 L53 1043.6 L57 1041.8 L61 1039.2 L66 1037.0 L70 1034.9 L74 1032.9 L78 1031.2 L82 1029.9 L86 1028.5 L90 1027.5 L95 1026.1 L99 1024.9" stroke="#48a84c" stroke-width="2" fill="none" stroke-linejoin="round" stroke-linecap="round"/>
<path d="M99 1024.9 L103 1025.1 L107 1025.5" stroke="#ff5252" stroke-width="2" fill="none" stroke-linejoin="round" stroke-linecap="round"/>
<path d="M107 1025.5 L111 1025.5 L115 1025.3 L119 1024.0 L124 1023.1 L128 1022.2 L132 1021.5 L136 1020.8 L140 1020.0 L144 1019.8 L148 1019.7 L153 1019.5" stroke="#48a84c" stroke-width="2" fill="none" stroke-linejoin="round" stroke-linecap="round"/>
<path d="M153 1019.5 L157 1019.9 L161 1020.4 L165 1021.1 L169 1021.9 L173 1022.6 L177 1023.6 L182 1024.1 L186 1025.1 L190 1026.2 L194 1027.1 L198 1027.8 L202 1028.5 L206 1028.9 L211 1029.6 L215 1030.4 L219 1031.3 L223 1032.5 L227 1033.4 L231 1033.6" stroke="#ff5252" stroke-width="2" fill="none" stroke-linejoin="round" stroke-linecap="round"/>
<path d="M231 1033.6 L235 1033.4 L240 1033.1 L244 1032.8 L248 1032.3 L252 1032.0 L256 1032.0 L260 1031.9 L264 1031.8" stroke="#48a84c" stroke-width="2" fill="none" stroke-linejoin="round" stroke-linecap="round"/>
<path d="M264 1031.8 L269 1032.0 L273 1032.7 L277 1033.2 L281 1033.6 L285 1033.8" stroke="#ff5252" stroke-width="2" fill="none" stroke-linejoin="round" stroke-linecap="round"/>
<path d="M285 1033.8 L289 1033.5 L293 1033.2 L298 1032.8 L302 1032.4 L306 1031.9 L310 1031.7 L314 1031.3 L318 1030.9 L322 1030.7 L327 1030.6 L331 1030.4 L335 1029.8 L339 1028.7 L343 1027.7 L347 1027.2 L352 1026.4 L356 1025.1 L360 1023.6 L364 1022.0 L368 1020.8 L372 1018.2 L376 1015.7 L381 1014.1 L385 1011.1 L389 1008.8 L393 1006.1 L397 1003.7 L401 1000.6 L405 997.9 L410 994.9 L414 991.8 L418 988.8 L422 986.4 L426 984.6 L430 982.6 L434 981.6 L439 980.6 L443 980.0 L447 978.9 L451 978.4 L455 978.3 L459 977.6 L463 976.7 L468 975.4 L472 973.6 L476 971.4 L480 969.7 L484 967.7 L488 965.8 L492 964.1 L497 962.7 L501 961.0 L505 959.7 L509 958.7 L513 957.5 L517 956.0 L521 954.5 L526 953.2 L530 951.0 L534 949.5 L538 948.1 L542 946.2 L546 943.6 L550 941.1 L555 937.6 L559 934.3 L563 930.4 L567 926.4 L571 922.6 L575 919.4 L579 915.8 L584 910.5 L588 903.8 L592 893.1 L596 884.4 L600 876.8 L604 868.3 L608 860.9 L613 855.3 L617 848.6 L621 842.1 L625 837.5 L629 833.4 L633 830.4 L637 827.7 L642 824.2 L646 821.5 L650 818.3 L654 814.6 L658 810.4 L662 806.2 L666 800.0 L671 794.5 L675 789.8 L679 784.8 L683 780.9 L687 775.9 L691 771.9 L696 766.2 L700 759.3 L704 753.0 L708 746.8 L712 739.9 L716 730.1 L720 722.7 L725 714.5 L729 706.4 L733 696.2 L737 686.1 L741 675.7 L745 664.9 L749 653.2 L754 640.0 L758 628.2 L762 616.3 L766 607.8 L770 596.6 L774 587.3 L778 579.0 L783 570.9 L787 563.2 L791 554.8 L795 546.3 L799 538.6 L803 530.2 L807 523.4 L812 515.7 L816 508.8 L820 502.8 L824 496.6 L828 492.6 L832 488.8 L836 485.3 L841 483.0 L845 481.3 L849 480.4 L853 479.3 L857 477.5 L861 477.0 L865 476.8 L870 474.9 L874 473.2 L878 472.5" stroke="#48a84c" stroke-width="2" fill="none" stroke-linejoin="round" stroke-linecap="round"/>
<path d="M878 472.5 L882 472.7" stroke="#ff5252" stroke-width="2" fill="none" stroke-linejoin="round" stroke-linecap="round"/>
<path d="M882 472.7 L886 472.5" stroke="#48a84c" stroke-width="2" fill="none" stroke-linejoin="round" stroke-linecap="round"/>
<path d="M886 472.5 L890 472.9 L894 475.4 L899 478.6 L903 481.7 L907 484.2 L911 485.3 L915 487.7 L919 489.8 L923 493.6 L928 495.9 L932 496.3" stroke="#ff5252" stroke-width="2" fill="none" stroke-linejoin="round" stroke-linecap="round"/>
<path d="M932 496.3 L936 495.2" stroke="#48a84c" stroke-width="2" fill="none" stroke-linejoin="round" stroke-linecap="round"/>
<path d="M936 495.2 L940 496.6 L944 497.9 L948 498.3" stroke="#ff5252" stroke-width="2" fill="none" stroke-linejoin="round" stroke-linecap="round"/>
<path d="M948 498.3 L952 498.3" stroke="#48a84c" stroke-width="2" fill="none" stroke-linejoin="round" stroke-linecap="round"/>
<path d="M952 498.3 L957 499.8 L961 500.9 L965 501.9 L969 502.7 L973 504.8 L977 505.5" stroke="#ff5252" stroke-width="2" fill="none" stroke-linejoin="round" stroke-linecap="round"/>
<path d="M977 505.5 L981 505.4" stroke="#48a84c" stroke-width="2" fill="none" stroke-linejoin="round" stroke-linecap="round"/>
<path d="M981 505.4 L986 505.6" stroke="#ff5252" stroke-width="2" fill="none" stroke-linejoin="round" stroke-linecap="round"/>
<path d="M986 505.6 L990 503.6 L994 500.6 L998 496.8 L1002 493.5 L1006 491.2 L1010 488.2 L1015 484.7 L1019 481.1 L1023 477.9 L1027 473.6 L1031 468.6 L1035 464.9 L1040 461.7 L1044 457.7 L1048 454.2 L1052 451.0 L1056 447.5 L1060 444.2 L1064 441.2 L1069 438.7 L1073 437.3 L1077 435.3 L1081 433.6 L1085 432.0 L1089 431.7 L1093 430.9 L1098 430.4 L1102 429.0 L1106 428.0 L1110 426.9 L1114 425.0 L1118 423.2 L1122 421.6 L1127 421.0" stroke="#48a84c" stroke-width="2" fill="none" stroke-linejoin="round" stroke-linecap="round"/>
<path d="M1127 421.0 L1131 421.3 L1135 421.6 L1139 422.0 L1143 422.3" stroke="#ff5252" stroke-width="2" fill="none" stroke-linejoin="round" stroke-linecap="round"/>
<path d="M1143 422.3 L1147 421.7 L1151 420.3 L1156 418.6 L1160 417.5 L1164 416.2 L1168 413.2 L1172 410.4 L1176 408.2 L1180 407.4 L1185 406.9 L1189 406.6 L1193 405.8 L1197 404.7" stroke="#48a84c" stroke-width="2" fill="none" stroke-linejoin="round" stroke-linecap="round"/>
<path d="M1197 404.7 L1201 404.9" stroke="#ff5252" stroke-width="2" fill="none" stroke-linejoin="round" stroke-linecap="round"/>
<path d="M1201 404.9 L1205 404.5 L1209 404.0 L1214 402.6 L1218 401.8 L1222 401.4" stroke="#48a84c" stroke-width="2" fill="none" stroke-linejoin="round" stroke-linecap="round"/>
<path d="M1222 401.4 L1226 402.5 L1230 404.6 L1234 407.8 L1238 410.4 L1243 413.0 L1247 416.8 L1251 419.2 L1255 422.3 L1259 423.9 L1263 426.3 L1267 430.3 L1272 432.8 L1276 435.5 L1280 436.7 L1284 438.2 L1288 440.0 L1292 441.6 L1296 442.6 L1301 443.9 L1305 446.1 L1309 449.2 L1313 452.4 L1317 455.7 L1321 459.3 L1325 462.4 L1330 466.8 L1334 470.7 L1338 474.6 L1342 477.7 L1346 481.9 L1350 485.2 L1355 489.0 L1359 492.5 L1363 494.7 L1367 497.4 L1371 499.0 L1375 500.6 L1379 500.9 L1384 501.3 L1388 501.7" stroke="#ff5252" stroke-width="2" fill="none" stroke-linejoin="round" stroke-linecap="round"/>
<path d="M1388 501.7 L1392 501.0 L1396 499.1 L1400 497.6 L1404 497.1 L1408 496.6 L1413 496.2 L1417 495.6" stroke="#48a84c" stroke-width="2" fill="none" stroke-linejoin="round" stroke-linecap="round"/>
<path d="M1417 495.6 L1421 495.7 L1425 495.8 L1429 496.1 L1433 496.1 L1437 496.7 L1442 496.9 L1446 497.2" stroke="#ff5252" stroke-width="2" fill="none" stroke-linejoin="round" stroke-linecap="round"/>
<path d="M1446 497.2 L1450 496.7" stroke="#48a84c" stroke-width="2" fill="none" stroke-linejoin="round" stroke-linecap="round"/>
<path d="M1450 496.7 L1454 498.0 L1458 498.8 L1462 499.0 L1466 499.2 L1471 499.9 L1475 500.5 L1479 501.3" stroke="#ff5252" stroke-width="2" fill="none" stroke-linejoin="round" stroke-linecap="round"/>
<path d="M1479 501.3 L1483 501.3 L1487 501.0 L1491 500.8" stroke="#48a84c" stroke-width="2" fill="none" stroke-linejoin="round" stroke-linecap="round"/>
<path d="M1491 500.8 L1495 501.3 L1500 501.9 L1504 502.8 L1508 503.5 L1512 504.0 L1516 504.4 L1520 505.2 L1524 506.4 L1529 507.1 L1533 507.4 L1537 507.4 L1541 507.6 L1545 509.5 L1549 510.9 L1553 511.6 L1558 512.5 L1562 512.8 L1566 513.5" stroke="#ff5252" stroke-width="2" fill="none" stroke-linejoin="round" stroke-linecap="round"/>
<path d="M1566 513.5 L1570 513.4 L1574 513.0 L1578 511.2 L1582 510.0 L1587 507.6 L1591 505.8 L1595 504.0 L1599 502.6 L1603 501.1 L1607 498.5 L1611 497.0 L1616 494.8 L1620 493.2 L1624 491.4 L1628 489.7 L1632 487.6 L1636 485.6 L1640 483.1 L1645 479.8 L1649 476.4 L1653 472.7 L1657 469.5 L1661 466.1 L1665 462.3 L1669 457.6 L1674 453.1 L1678 450.4 L1682 447.3 L1686 444.4 L1690 440.9 L1694 438.4 L1699 436.9 L1703 433.6 L1707 430.5 L1711 428.1 L1715 425.0 L1719 421.9 L1723 419.1 L1728 415.1 L1732 411.4 L1736 407.2 L1740 403.7 L1744 400.8 L1748 398.8 L1752 396.5 L1757 394.4 L1761 392.4 L1765 390.4 L1769 389.1 L1773 387.7 L1777 386.6 L1781 386.0 L1786 385.6 L1790 384.6 L1794 384.0 L1798 383.3 L1802 383.2" stroke="#48a84c" stroke-width="2" fill="none" stroke-linejoin="round" stroke-linecap="round"/>
<path d="M1802 383.2 L1806 383.2" stroke="#ff5252" stroke-width="2" fill="none" stroke-linejoin="round" stroke-linecap="round"/>
<path d="M1806 383.2 L1810 383.0 L1815 382.2 L1819 381.4 L1823 379.9 L1827 378.1 L1831 376.3 L1835 374.5 L1839 372.6 L1844 370.2 L1848 366.6 L1852 363.9 L1856 361.1 L1860 358.4 L1864 353.0 L1868 349.1 L1873 345.0 L1877 341.0 L1881 335.7 L1885 330.8 L1889 325.2 L1893 320.8 L1897 317.2 L1902 313.9 L1906 310.5 L1910 308.3" stroke="#48a84c" stroke-width="2" fill="none" stroke-linejoin="round" stroke-linecap="round"/>
<path d="M1910 308.3 L1914 309.7 L1918 310.4 L1922 311.6 L1926 319.0 L1931 328.2 L1935 337.6 L1939 345.7 L1943 352.2 L1947 357.9 L1951 365.2 L1955 372.7 L1960 381.9 L1964 388.9 L1968 395.7 L1972 402.1 L1976 407.8 L1980 413.0 L1984 418.0 L1989 423.9 L1993 428.9 L1997 433.6 L2001 438.7 L2005 442.7 L2009 446.6 L2013 450.0 L2018 453.4 L2022 456.9 L2026 459.9 L2030 463.1 L2034 467.0 L2038 470.2 L2043 474.1" stroke="#ff5252" stroke-width="2" fill="none" stroke-linejoin="round" stroke-linecap="round"/>
<path d="M2043 474.1 L2047 472.1" stroke="#48a84c" stroke-width="2" fill="none" stroke-linejoin="round" stroke-linecap="round"/>
<path d="M2047 472.1 L2051 473.8 L2055 475.2 L2059 478.4 L2063 481.9 L2067 485.2 L2072 488.7 L2076 492.8 L2080 496.4 L2084 499.8 L2088 504.7 L2092 508.8 L2096 511.9 L2101 515.4 L2105 518.4 L2109 521.3 L2113 523.6 L2117 525.2 L2121 526.8 L2125 528.2 L2130 529.5 L2134 531.3 L2138 533.0 L2142 535.0 L2146 537.5 L2150 539.4 L2154 541.1 L2159 542.8 L2163 543.7 L2167 544.1 L2171 544.6 L2175 544.8 L2179 545.0 L2183 545.0 L2188 546.0" stroke="#ff5252" stroke-width="2" fill="none" stroke-linejoin="round" stroke-linecap="round"/>
<path d="M2188 546.0 L2192 545.7" stroke="#48a84c" stroke-width="2" fill="none" stroke-linejoin="round" stroke-linecap="round"/>
<path d="M2192 545.7 L2196 546.8 L2200 548.9 L2204 550.7 L2208 553.4 L2212 556.0 L2217 557.8 L2221 558.7 L2225 561.2 L2229 563.3 L2233 564.9 L2237 566.2 L2241 567.7 L2246 568.8 L2250 570.1" stroke="#ff5252" stroke-width="2" fill="none" stroke-linejoin="round" stroke-linecap="round"/>
</g>
<g clip-path="url(#cpm)">
<path d="M24 990V1010M37 999V1015M45 1001V1015M49 991V1009M57 981V1013M61 966V996M70 965V984M74 974V981M86 987V997M95 986V1008M111 1021V1038M115 1015V1028M119 971V1022M136 993V1003M140 993V1005M153 1005V1017M182 1036V1062M194 1046V1062M198 1043V1058M206 1032V1050M227 1055V1068M231 1034V1057M235 1026V1043M240 1017V1034M244 1018V1026M248 1016V1025M260 1027V1038M264 1025V1032M277 1043V1053M285 1033V1051M289 1021V1042M298 1017V1028M302 1013V1022M306 1011V1029M314 1020V1028M318 1015V1023M331 1022V1036M335 1009V1030M339 998V1013M352 1003V1014M356 990V1011M360 980V994M364 976V986M372 939V990M385 916V974M393 931V953M401 915V942M410 910V939M414 903V925M430 915V937M447 947V968M459 956V979M463 928V966M468 939V962M472 924V951M476 911V931M484 907V926M501 913V928M513 918V937M517 912V928M530 865V924M542 890V913M546 863V898M555 838V879M559 834V855M563 821V848M567 809V830M579 807V843M584 752V819M588 710V772M592 573V730M604 633V693M617 662V729M642 718V757M650 725V796M654 704V749M658 679V720M662 681V716M666 626V700M679 634V662M687 639V677M696 595V668M700 566V627M708 565V593M712 550V588M716 448V556M725 483V561M729 479V523M733 401V495M737 369V436M741 390V461M745 363V426M749 298V385M754 281V354M762 254V338M770 284V387M783 323V374M791 323V359M795 295V328M803 276V363M812 288V341M824 321V346M832 371V431M853 448V537M857 406V452M870 418V471M886 459V492M903 542V623M907 542V580M911 512V564M919 537V572M928 556V611M932 505V569M936 437V519M948 459V546M952 475V513M961 515V552M965 517V549M969 514V542M977 525V577M981 492V527M990 437V519M994 405V465M998 392V440M1010 407V431M1015 364V416M1019 379V408M1027 352V394M1031 330V365M1044 347V385M1056 333V370M1077 370V401M1093 403V434M1102 389V420M1110 389V406M1114 368V401M1118 368V389M1135 415V441M1143 428V458M1147 396V437M1151 380V411M1156 367V396M1164 380V400M1168 307V387M1193 379V409M1197 362V389M1205 385V411M1209 384V396M1214 354V392M1238 473V511M1251 483V521M1259 467V508M1272 497V544M1280 467V533M1292 478V496M1296 467V484M1325 546V602M1334 571V609M1342 552V584M1350 562V623M1359 578V615M1363 551V590M1371 525V574M1379 489V549M1388 509V521M1392 478V527M1396 443V495M1417 470V488M1425 488V504M1433 489V504M1442 497V515M1450 480V509M1458 516V547M1462 503V524M1466 498V523M1475 506V523M1483 497V526M1487 490V506M1508 520V538M1512 512V536M1529 524V546M1533 511V529M1537 507V520M1549 539V573M1553 528V555M1562 514V556M1570 508V545M1574 495V516M1578 459V530M1587 441V482M1595 438V501M1603 456V482M1607 425V467M1616 427V460M1624 415V452M1632 402V460M1640 411V433M1645 388V426M1649 376V410M1653 370V392M1661 340V386M1665 352V376M1669 319V365M1682 353V379M1690 342V373M1703 339V397M1715 330V366M1719 330V362M1728 283V353M1736 289V317M1752 331V355M1761 327V341M1765 331V349M1773 337V355M1790 354V380M1798 355V382M1810 369V392M1815 354V380M1823 338V363M1827 312V348M1835 318V334M1839 300V331M1844 296V325M1848 262V308M1856 278V293M1864 204V295M1873 232V296M1877 218V246M1881 187V244M1889 167V219M1906 209V232M1918 314V355M1939 553V602M1943 511V579M1947 509V563M1964 573V670M1972 547V599M1976 547V592M1980 541V575M1984 542V565M1993 520V587M1997 531V581M2005 550V578M2009 546V570M2013 515V553M2026 533V558M2038 557V587M2047 383V581M2055 504V537M2067 566V590M2080 591V612M2084 588V599M2092 617V649M2096 591V623M2105 595V621M2113 583V616M2117 563V587M2121 547V576M2125 560V572M2138 570V592M2150 589V608M2154 583V595M2163 562V591M2167 551V575M2175 548V562M2183 542V559M2192 529V576M2204 595V613M2212 618V646M2217 606V640M2221 562V624M2229 618V634M2233 604V622M2237 593V609M2246 590V617" stroke="#a9cdd3" stroke-width="2" fill="none"/>
<path d="M28 991V997M32 995V1008M41 1001V1016M53 989V1009M66 966V990M78 976V995M82 982V998M90 986V1010M99 981V993M103 987V1062M107 1024V1044M124 988V1012M128 994V1006M132 996V1017M144 998V1016M148 1012V1025M157 1007V1033M161 1024V1040M165 1027V1050M169 1034V1046M173 1040V1050M177 1038V1051M186 1037V1056M190 1041V1060M202 1040V1052M211 1038V1054M215 1043V1053M219 1046V1058M223 1054V1069M252 1013V1030M256 1020V1040M269 1027V1043M273 1034V1054M281 1043V1061M293 1017V1029M310 1019V1027M322 1016V1026M327 1022V1032M343 996V1006M347 996V1015M368 976V991M376 940V963M381 940V978M389 929V964M397 919V943M405 886V931M418 886V911M422 905V925M426 916V948M434 927V958M439 945V974M443 949V971M451 935V964M455 959V988M480 906V929M488 911V922M492 902V924M497 909V944M505 909V935M509 918V934M521 910V919M526 912V931M534 888V915M538 903V927M550 860V880M571 812V838M575 813V834M596 604V701M600 646V697M608 634V663M613 653V748M621 663V687M625 666V714M629 705V741M633 717V770M637 740V783M646 721V755M671 619V656M675 626V664M683 643V693M691 642V675M704 560V600M720 447V553M758 250V311M766 288V406M774 294V365M778 331V395M787 339V387M799 305V351M807 289V345M816 300V332M820 321V369M828 323V402M836 379V417M841 383V420M845 414V514M849 405V456M861 413V467M865 453V499M874 408V433M878 413V453M882 444V487M890 445V500M894 483V550M899 527V579M915 513V564M923 532V601M940 443V542M944 515V557M957 493V547M973 518V564M986 490V527M1002 390V425M1006 400V439M1023 362V398M1035 325V375M1040 361V408M1048 348V382M1052 356V399M1060 349V369M1064 352V373M1069 354V381M1073 356V418M1081 380V405M1085 379V396M1089 385V433M1098 393V419M1106 384V410M1122 367V382M1127 375V416M1131 402V469M1139 426V460M1160 366V393M1172 326V354M1176 331V358M1180 318V431M1185 372V400M1189 392V413M1201 374V419M1218 356V389M1222 368V405M1226 387V443M1230 429V481M1234 460V535M1243 459V485M1247 459V522M1255 473V507M1263 465V496M1267 490V555M1276 483V513M1284 467V480M1288 468V497M1301 453V483M1305 476V523M1309 497V542M1313 522V561M1317 529V548M1321 530V560M1330 534V589M1338 573V604M1346 549V600M1355 565V604M1367 554V578M1375 529V558M1384 502V521M1400 440V471M1404 456V484M1408 471V490M1413 475V497M1421 475V511M1429 493V522M1437 496V517M1446 497V513M1454 477V538M1471 501V521M1479 511V538M1491 487V513M1495 481V518M1500 506V525M1504 513V538M1516 506V524M1520 515V526M1524 524V556M1541 499V521M1545 509V569M1558 523V540M1566 513V538M1582 383V491M1591 416V473M1599 445V490M1611 427V457M1620 429V456M1628 432V450M1636 416V436M1657 371V394M1674 318V344M1678 328V392M1686 359V378M1694 339V371M1699 361V410M1707 324V357M1711 347V367M1723 325V355M1732 291V321M1740 291V336M1744 306V348M1748 315V348M1757 326V343M1769 332V362M1777 346V361M1781 348V394M1786 353V385M1794 355V384M1802 357V383M1806 371V388M1819 350V368M1831 317V338M1852 268V295M1860 267V291M1868 192V253M1885 188V215M1893 173V226M1897 196V231M1902 202V230M1910 209V272M1914 244V369M1922 315V353M1926 342V751M1931 487V599M1935 546V651M1951 502V566M1955 532V577M1960 561V634M1968 563V610M1989 551V590M2001 554V588M2018 536V559M2022 526V597M2030 529V556M2034 545V582M2043 557V586M2051 417V543M2059 511V577M2063 555V627M2072 561V590M2076 575V649M2088 580V651M2101 593V624M2109 591V616M2130 550V583M2134 564V583M2142 578V605M2146 582V616M2159 580V599M2171 541V562M2179 544V559M2188 538V591M2196 530V577M2200 568V608M2208 593V640M2225 581V659M2241 597V614M2250 596V607" stroke="#f5a6ae" stroke-width="2" fill="none"/>
<path d="M22 994h4V1008h-4zM35 1002h4V1005h-4zM43 1004h4V1014h-4zM47 992h4V1004h-4zM55 991h4V1008h-4zM59 970h4V991h-4zM68 978h4V980h-4zM72 977h4V979h-4zM84 991h4V994h-4zM93 989h4V999h-4zM109 1025h4V1035h-4zM113 1019h4V1025h-4zM117 990h4V1019h-4zM134 1001h4V1003h-4zM138 1000h4V1002h-4zM151 1015h4V1017h-4zM180 1039h4V1050h-4zM192 1052h4V1055h-4zM196 1045h4V1052h-4zM204 1039h4V1048h-4zM225 1056h4V1065h-4zM229 1039h4V1056h-4zM233 1029h4V1039h-4zM238 1025h4V1029h-4zM242 1024h4V1026h-4zM246 1019h4V1024h-4zM258 1028h4V1032h-4zM262 1028h4V1030h-4zM275 1046h4V1051h-4zM283 1039h4V1047h-4zM287 1023h4V1039h-4zM296 1021h4V1028h-4zM300 1020h4V1022h-4zM304 1020h4V1022h-4zM312 1022h4V1025h-4zM316 1020h4V1022h-4zM329 1026h4V1030h-4zM333 1011h4V1026h-4zM337 1000h4V1011h-4zM350 1004h4V1014h-4zM354 991h4V1004h-4zM358 982h4V991h-4zM362 981h4V983h-4zM370 947h4V987h-4zM383 930h4V972h-4zM391 933h4V946h-4zM399 917h4V939h-4zM408 913h4V926h-4zM412 907h4V913h-4zM428 929h4V937h-4zM445 948h4V964h-4zM457 959h4V977h-4zM461 953h4V959h-4zM466 941h4V953h-4zM470 925h4V941h-4zM474 912h4V925h-4zM482 913h4V924h-4zM499 917h4V924h-4zM511 926h4V932h-4zM515 913h4V926h-4zM528 891h4V919h-4zM540 894h4V912h-4zM544 872h4V894h-4zM553 845h4V873h-4zM557 843h4V845h-4zM561 825h4V843h-4zM565 820h4V825h-4zM577 818h4V833h-4zM582 768h4V818h-4zM586 721h4V768h-4zM590 606h4V721h-4zM602 639h4V672h-4zM615 667h4V704h-4zM640 730h4V753h-4zM648 732h4V748h-4zM652 715h4V732h-4zM656 697h4V715h-4zM660 690h4V697h-4zM664 635h4V690h-4zM677 651h4V662h-4zM685 643h4V674h-4zM694 610h4V664h-4zM698 575h4V610h-4zM706 578h4V582h-4zM710 554h4V578h-4zM714 465h4V554h-4zM723 493h4V524h-4zM727 486h4V493h-4zM731 421h4V486h-4zM735 416h4V421h-4zM739 395h4V416h-4zM743 372h4V395h-4zM747 337h4V372h-4zM752 285h4V337h-4zM760 296h4V308h-4zM768 295h4V376h-4zM781 354h4V356h-4zM789 326h4V355h-4zM793 317h4V326h-4zM801 302h4V332h-4zM810 308h4V341h-4zM822 329h4V342h-4zM830 386h4V388h-4zM851 451h4V455h-4zM855 429h4V451h-4zM868 423h4V470h-4zM884 464h4V481h-4zM901 565h4V567h-4zM905 551h4V565h-4zM909 516h4V551h-4zM917 547h4V554h-4zM926 558h4V596h-4zM930 507h4V558h-4zM934 465h4V507h-4zM946 509h4V535h-4zM950 498h4V509h-4zM959 532h4V538h-4zM963 529h4V532h-4zM967 523h4V529h-4zM975 526h4V561h-4zM979 501h4V526h-4zM988 450h4V512h-4zM992 419h4V450h-4zM996 394h4V419h-4zM1008 409h4V429h-4zM1013 390h4V409h-4zM1017 383h4V390h-4zM1025 356h4V393h-4zM1029 333h4V356h-4zM1042 350h4V376h-4zM1054 353h4V365h-4zM1075 383h4V399h-4zM1091 407h4V424h-4zM1100 393h4V417h-4zM1108 397h4V401h-4zM1112 374h4V397h-4zM1116 374h4V376h-4zM1133 427h4V430h-4zM1141 432h4V434h-4zM1145 406h4V432h-4zM1149 382h4V406h-4zM1154 372h4V382h-4zM1162 382h4V386h-4zM1166 333h4V382h-4zM1191 382h4V400h-4zM1195 377h4V382h-4zM1203 394h4V409h-4zM1207 390h4V394h-4zM1212 365h4V390h-4zM1236 479h4V494h-4zM1249 486h4V519h-4zM1257 468h4V505h-4zM1270 500h4V537h-4zM1278 470h4V509h-4zM1290 483h4V489h-4zM1294 470h4V483h-4zM1323 548h4V556h-4zM1332 577h4V584h-4zM1340 559h4V580h-4zM1348 572h4V598h-4zM1357 585h4V594h-4zM1361 555h4V585h-4zM1369 541h4V571h-4zM1377 507h4V544h-4zM1386 513h4V515h-4zM1390 482h4V513h-4zM1394 446h4V482h-4zM1415 480h4V485h-4zM1423 498h4V500h-4zM1431 497h4V502h-4zM1440 502h4V513h-4zM1448 484h4V506h-4zM1456 521h4V531h-4zM1460 506h4V521h-4zM1464 502h4V506h-4zM1473 517h4V520h-4zM1481 501h4V522h-4zM1485 493h4V501h-4zM1506 524h4V526h-4zM1510 516h4V524h-4zM1527 526h4V540h-4zM1531 513h4V526h-4zM1535 508h4V513h-4zM1547 547h4V562h-4zM1551 532h4V547h-4zM1560 519h4V537h-4zM1568 512h4V533h-4zM1572 502h4V512h-4zM1576 461h4V502h-4zM1585 443h4V477h-4zM1593 454h4V458h-4zM1601 458h4V467h-4zM1605 430h4V458h-4zM1614 438h4V454h-4zM1622 442h4V450h-4zM1630 430h4V445h-4zM1638 414h4V432h-4zM1643 391h4V414h-4zM1647 385h4V391h-4zM1651 373h4V385h-4zM1659 375h4V382h-4zM1663 362h4V375h-4zM1667 329h4V362h-4zM1680 364h4V377h-4zM1688 346h4V368h-4zM1701 344h4V397h-4zM1713 341h4V362h-4zM1717 340h4V342h-4zM1726 309h4V342h-4zM1734 294h4V312h-4zM1750 333h4V344h-4zM1759 338h4V340h-4zM1763 337h4V339h-4zM1771 350h4V354h-4zM1788 357h4V376h-4zM1796 364h4V368h-4zM1808 378h4V383h-4zM1813 358h4V378h-4zM1821 340h4V362h-4zM1825 327h4V340h-4zM1833 328h4V330h-4zM1837 320h4V328h-4zM1842 304h4V320h-4zM1846 271h4V304h-4zM1854 285h4V290h-4zM1862 207h4V286h-4zM1871 234h4V244h-4zM1875 234h4V236h-4zM1879 193h4V234h-4zM1887 175h4V198h-4zM1904 218h4V227h-4zM1916 329h4V347h-4zM1937 566h4V591h-4zM1941 527h4V566h-4zM1945 512h4V527h-4zM1962 576h4V630h-4zM1970 574h4V581h-4zM1974 562h4V574h-4zM1978 554h4V562h-4zM1982 552h4V554h-4zM1991 563h4V583h-4zM1995 562h4V564h-4zM2003 551h4V576h-4zM2007 550h4V552h-4zM2011 542h4V550h-4zM2024 541h4V553h-4zM2036 558h4V572h-4zM2045 418h4V580h-4zM2053 513h4V519h-4zM2065 574h4V577h-4zM2078 594h4V602h-4zM2082 593h4V595h-4zM2090 618h4V636h-4zM2094 595h4V618h-4zM2103 599h4V612h-4zM2111 584h4V601h-4zM2115 569h4V584h-4zM2119 568h4V570h-4zM2123 565h4V568h-4zM2136 578h4V580h-4zM2148 591h4V605h-4zM2152 585h4V591h-4zM2161 570h4V588h-4zM2165 554h4V570h-4zM2173 550h4V558h-4zM2181 547h4V550h-4zM2190 540h4V571h-4zM2202 599h4V607h-4zM2210 626h4V628h-4zM2215 607h4V626h-4zM2219 582h4V607h-4zM2227 620h4V628h-4zM2231 608h4V620h-4zM2235 601h4V608h-4zM2244 598h4V607h-4z" fill="#53b987"/>
<path d="M26 994h4V996h-4zM30 996h4V1005h-4zM39 1002h4V1014h-4zM51 992h4V1008h-4zM64 970h4V978h-4zM76 977h4V988h-4zM80 988h4V994h-4zM88 991h4V999h-4zM97 989h4V992h-4zM101 992h4V1033h-4zM105 1033h4V1035h-4zM122 990h4V998h-4zM126 998h4V1000h-4zM130 999h4V1001h-4zM142 1000h4V1014h-4zM146 1014h4V1016h-4zM155 1015h4V1031h-4zM159 1031h4V1033h-4zM163 1033h4V1041h-4zM167 1041h4V1043h-4zM171 1042h4V1044h-4zM175 1042h4V1050h-4zM184 1039h4V1052h-4zM188 1052h4V1055h-4zM200 1045h4V1048h-4zM209 1039h4V1050h-4zM213 1050h4V1052h-4zM217 1050h4V1056h-4zM221 1056h4V1065h-4zM250 1019h4V1024h-4zM254 1024h4V1032h-4zM267 1028h4V1039h-4zM271 1039h4V1051h-4zM279 1046h4V1048h-4zM291 1023h4V1028h-4zM308 1020h4V1025h-4zM320 1020h4V1024h-4zM325 1024h4V1030h-4zM341 1000h4V1002h-4zM345 1000h4V1014h-4zM366 981h4V987h-4zM374 947h4V949h-4zM379 948h4V972h-4zM387 930h4V946h-4zM395 933h4V939h-4zM403 917h4V926h-4zM416 907h4V909h-4zM420 909h4V920h-4zM424 920h4V937h-4zM432 929h4V954h-4zM437 954h4V956h-4zM441 955h4V964h-4zM449 948h4V963h-4zM453 963h4V977h-4zM478 912h4V924h-4zM486 913h4V915h-4zM490 914h4V919h-4zM495 919h4V924h-4zM503 917h4V924h-4zM507 924h4V932h-4zM519 913h4V915h-4zM524 914h4V919h-4zM532 891h4V908h-4zM536 908h4V912h-4zM548 872h4V874h-4zM569 820h4V822h-4zM573 821h4V833h-4zM594 606h4V649h-4zM598 649h4V672h-4zM606 639h4V661h-4zM611 661h4V704h-4zM619 667h4V669h-4zM623 668h4V712h-4zM627 712h4V724h-4zM631 724h4V750h-4zM635 750h4V753h-4zM644 730h4V748h-4zM669 635h4V645h-4zM673 645h4V662h-4zM681 651h4V674h-4zM689 643h4V664h-4zM702 575h4V582h-4zM718 465h4V524h-4zM756 285h4V308h-4zM764 296h4V376h-4zM772 295h4V336h-4zM776 336h4V354h-4zM785 354h4V356h-4zM797 317h4V332h-4zM805 302h4V341h-4zM814 308h4V322h-4zM818 322h4V342h-4zM826 329h4V386h-4zM834 386h4V391h-4zM839 391h4V419h-4zM843 419h4V438h-4zM847 438h4V455h-4zM859 429h4V463h-4zM863 463h4V470h-4zM872 423h4V428h-4zM876 428h4V452h-4zM880 452h4V481h-4zM888 464h4V485h-4zM892 485h4V543h-4zM897 543h4V565h-4zM913 516h4V554h-4zM921 547h4V596h-4zM938 465h4V533h-4zM942 533h4V535h-4zM955 498h4V538h-4zM971 523h4V561h-4zM984 501h4V512h-4zM1000 394h4V403h-4zM1004 403h4V429h-4zM1021 383h4V393h-4zM1033 333h4V364h-4zM1038 364h4V376h-4zM1046 350h4V358h-4zM1050 358h4V365h-4zM1058 353h4V356h-4zM1062 356h4V359h-4zM1067 359h4V371h-4zM1071 371h4V399h-4zM1079 383h4V386h-4zM1083 386h4V390h-4zM1087 390h4V424h-4zM1096 407h4V417h-4zM1104 393h4V401h-4zM1120 374h4V378h-4zM1125 378h4V407h-4zM1129 407h4V430h-4zM1137 427h4V433h-4zM1158 372h4V386h-4zM1170 333h4V335h-4zM1174 335h4V347h-4zM1178 347h4V386h-4zM1183 386h4V394h-4zM1187 394h4V400h-4zM1199 377h4V409h-4zM1216 365h4V381h-4zM1220 381h4V390h-4zM1224 390h4V432h-4zM1228 432h4V463h-4zM1232 463h4V494h-4zM1241 479h4V484h-4zM1245 484h4V519h-4zM1253 486h4V505h-4zM1261 468h4V492h-4zM1265 492h4V537h-4zM1274 500h4V509h-4zM1282 470h4V478h-4zM1286 478h4V489h-4zM1299 470h4V481h-4zM1303 481h4V505h-4zM1307 505h4V534h-4zM1311 534h4V539h-4zM1315 539h4V544h-4zM1319 544h4V556h-4zM1328 548h4V584h-4zM1336 577h4V580h-4zM1344 559h4V598h-4zM1353 572h4V594h-4zM1365 555h4V571h-4zM1373 541h4V544h-4zM1382 507h4V513h-4zM1398 446h4V458h-4zM1402 458h4V482h-4zM1406 482h4V485h-4zM1411 485h4V487h-4zM1419 480h4V498h-4zM1427 498h4V502h-4zM1435 497h4V513h-4zM1444 502h4V506h-4zM1452 484h4V531h-4zM1469 502h4V520h-4zM1477 517h4V522h-4zM1489 493h4V496h-4zM1493 496h4V514h-4zM1498 514h4V519h-4zM1502 519h4V526h-4zM1514 516h4V518h-4zM1518 517h4V525h-4zM1522 525h4V540h-4zM1539 508h4V512h-4zM1543 512h4V562h-4zM1556 532h4V537h-4zM1564 519h4V533h-4zM1580 461h4V477h-4zM1589 443h4V458h-4zM1597 454h4V467h-4zM1609 430h4V454h-4zM1618 438h4V450h-4zM1626 442h4V445h-4zM1634 430h4V432h-4zM1655 373h4V382h-4zM1672 329h4V332h-4zM1676 332h4V377h-4zM1684 364h4V368h-4zM1692 346h4V370h-4zM1697 370h4V397h-4zM1705 344h4V348h-4zM1709 348h4V362h-4zM1721 340h4V342h-4zM1730 309h4V312h-4zM1738 294h4V309h-4zM1742 309h4V323h-4zM1746 323h4V344h-4zM1755 333h4V339h-4zM1767 337h4V354h-4zM1775 350h4V357h-4zM1779 357h4V368h-4zM1784 368h4V376h-4zM1792 357h4V368h-4zM1800 364h4V381h-4zM1804 381h4V383h-4zM1817 358h4V362h-4zM1829 327h4V329h-4zM1850 271h4V290h-4zM1858 285h4V287h-4zM1866 207h4V244h-4zM1883 193h4V198h-4zM1891 175h4V199h-4zM1895 199h4V220h-4zM1900 220h4V227h-4zM1908 218h4V249h-4zM1912 249h4V347h-4zM1920 329h4V344h-4zM1924 344h4V521h-4zM1929 521h4V575h-4zM1933 575h4V591h-4zM1949 512h4V562h-4zM1953 562h4V576h-4zM1958 576h4V630h-4zM1966 576h4V581h-4zM1987 552h4V583h-4zM1999 562h4V576h-4zM2016 542h4V545h-4zM2020 545h4V553h-4zM2028 541h4V549h-4zM2032 549h4V572h-4zM2041 558h4V580h-4zM2049 418h4V519h-4zM2057 513h4V566h-4zM2061 566h4V577h-4zM2070 574h4V583h-4zM2074 583h4V602h-4zM2086 593h4V636h-4zM2099 595h4V612h-4zM2107 599h4V601h-4zM2128 565h4V567h-4zM2132 565h4V580h-4zM2140 578h4V591h-4zM2144 591h4V605h-4zM2157 585h4V588h-4zM2169 554h4V558h-4zM2177 550h4V552h-4zM2186 547h4V571h-4zM2194 540h4V575h-4zM2198 575h4V607h-4zM2206 599h4V627h-4zM2223 582h4V628h-4zM2239 601h4V607h-4zM2248 598h4V605h-4z" fill="#eb4d5c"/>
</g>
<path d="M21 62H2472" stroke="#9575cd" stroke-width="2"/>
<path d="M21 688H2472" stroke="#2e8b35" stroke-width="2"/>
<path d="M21 938H2472" stroke="#2196f3" stroke-width="2"/>
<path d="M21 1063H2472" stroke="#ff9800" stroke-width="2"/>
<path d="M21 539H2472" stroke="#ff3d3d" stroke-width="2"/>
<path d="M20 605H2472" stroke="#eb4d5c" stroke-width="2" stroke-dasharray="2 4"/>
<g clip-path="url(#cps)">
<path d="M20 1261.9 L24 1265.1 L28 1254.3 L32 1244.6 L37 1246.4 L41 1267.2 L45 1287.3 L49 1296.3 L53 1295.8 L57 1288.1 L61 1277.4 L66 1258.7 L70 1242.3 L74 1233.8 L78 1241.9 L82 1262.3 L86 1287.5 L90 1315.5 L95 1327.1 L99 1327.4 L103 1325.0 L107 1328.2 L111 1332.1 L115 1332.9 L119 1315.8 L124 1288.8 L128 1266.2 L132 1256.0 L136 1251.0 L140 1247.9 L144 1247.2 L148 1253.6 L153 1268.4 L157 1285.3 L161 1302.0 L165 1321.0 L169 1335.5 L173 1344.7 L177 1346.5 L182 1341.1 L186 1333.4 L190 1325.0 L194 1325.7 L198 1319.9 L202 1307.1 L206 1278.4 L211 1257.4 L215 1243.2 L219 1250.9 L223 1268.3 L227 1286.3 L231 1284.4 L235 1257.4 L240 1224.0 L244 1201.4 L248 1194.5 L252 1196.7 L256 1203.9 L260 1215.0 L264 1225.6 L269 1234.1 L273 1247.0 L277 1264.2 L281 1284.0 L285 1292.9 L289 1288.1 L293 1268.6 L298 1243.3 L302 1224.9 L306 1211.3 L310 1208.4 L314 1206.7 L318 1209.6 L322 1210.1 L327 1216.2 L331 1228.0 L335 1236.5 L339 1231.4 L343 1214.6 L347 1211.9 L352 1222.6 L356 1239.2 L360 1234.4 L364 1218.0 L368 1204.8 L372 1202.3 L376 1205.9 L381 1211.9 L385 1221.1 L389 1239.1 L393 1249.1 L397 1261.8 L401 1261.5 L405 1267.4 L410 1267.3 L414 1273.2 L418 1272.7 L422 1277.7 L426 1289.9 L430 1310.9 L434 1329.2 L439 1338.3 L443 1342.9 L447 1341.0 L451 1338.9 L455 1334.7 L459 1334.5 L463 1329.8 L468 1317.7 L472 1299.1 L476 1274.6 L480 1252.0 L484 1231.0 L488 1221.7 L492 1217.2 L497 1221.2 L501 1225.7 L505 1233.5 L509 1241.6 L513 1255.3 L517 1266.0 L521 1269.8 L526 1266.9 L530 1258.4 L534 1256.2 L538 1255.1 L542 1265.0 L546 1261.3 L550 1244.4 L555 1217.7 L559 1201.0 L563 1195.5 L567 1195.0 L571 1194.9 L575 1200.8 L579 1209.7 L584 1217.8 L588 1214.8 L592 1205.9 L596 1204.0 L600 1219.3 L604 1247.5 L608 1278.2 L613 1302.4 L617 1321.3 L621 1330.4 L625 1334.3 L629 1335.7 L633 1340.2 L637 1344.8 L642 1345.5 L646 1343.9 L650 1340.5 L654 1336.4 L658 1327.1 L662 1313.6 L666 1289.1 L671 1260.7 L675 1235.1 L679 1227.4 L683 1236.6 L687 1248.0 L691 1259.9 L696 1256.8 L700 1249.3 L704 1228.6 L708 1214.1 L712 1204.9 L716 1202.2 L720 1209.0 L725 1223.5 L729 1246.7 L733 1254.4 L737 1249.3 L741 1231.4 L745 1217.8 L749 1206.6 L754 1199.8 L758 1200.8 L762 1208.4 L766 1234.4 L770 1261.8 L774 1297.7 L778 1316.7 L783 1334.9 L787 1340.8 L791 1344.5 L795 1339.5 L799 1333.5 L803 1328.6 L807 1329.7 L812 1329.5 L816 1332.6 L820 1332.7 L824 1336.0 L828 1337.8 L832 1339.6 L836 1342.7 L841 1344.8 L845 1346.9 L849 1347.0 L853 1346.4 L857 1342.5 L861 1338.5 L865 1335.6 L870 1332.5 L874 1322.5 L878 1308.3 L882 1304.5 L886 1309.0 L890 1320.2 L894 1325.0 L899 1333.6 L903 1340.0 L907 1342.9 L911 1330.0 L915 1310.9 L919 1291.3 L923 1290.8 L928 1292.2 L932 1287.5 L936 1258.8 L940 1232.0 L944 1221.6 L948 1230.5 L952 1237.1 L957 1237.2 L961 1236.0 L965 1241.8 L969 1246.1 L973 1251.0 L977 1251.4 L981 1250.6 L986 1242.7 L990 1231.4 L994 1220.2 L998 1207.7 L1002 1201.1 L1006 1201.5 L1010 1210.2 L1015 1217.5 L1019 1216.0 L1023 1210.9 L1027 1204.8 L1031 1202.4 L1035 1204.7 L1040 1216.1 L1044 1236.8 L1048 1259.4 L1052 1280.0 L1056 1293.9 L1060 1302.6 L1064 1307.3 L1069 1315.7 L1073 1328.5 L1077 1337.2 L1081 1337.9 L1085 1332.4 L1089 1331.7 L1093 1332.0 L1098 1333.3 L1102 1324.2 L1106 1314.5 L1110 1300.5 L1114 1289.3 L1118 1272.9 L1122 1253.4 L1127 1246.5 L1131 1259.7 L1135 1293.8 L1139 1323.8 L1143 1340.8 L1147 1335.7 L1151 1310.4 L1156 1268.5 L1160 1232.3 L1164 1215.1 L1168 1214.6 L1172 1213.3 L1176 1209.3 L1180 1216.0 L1185 1238.4 L1189 1270.9 L1193 1291.7 L1197 1297.8 L1201 1297.6 L1205 1302.2 L1209 1313.8 L1214 1312.6 L1218 1305.2 L1222 1294.3 L1226 1301.3 L1230 1316.3 L1234 1334.4 L1238 1340.8 L1243 1339.5 L1247 1334.6 L1251 1329.5 L1255 1325.1 L1259 1311.5 L1263 1299.6 L1267 1289.9 L1272 1289.3 L1276 1287.6 L1280 1271.1 L1284 1248.2 L1288 1223.0 L1292 1213.3 L1296 1208.8 L1301 1208.3 L1305 1211.7 L1309 1228.8 L1313 1258.3 L1317 1289.2 L1321 1311.5 L1325 1323.5 L1330 1331.2 L1334 1333.8 L1338 1336.3 L1342 1328.7 L1346 1322.8 L1350 1309.2 L1355 1304.9 L1359 1290.8 L1363 1274.4 L1367 1247.9 L1371 1224.9 L1375 1211.4 L1379 1202.6 L1384 1200.7 L1388 1198.7 L1392 1200.1 L1396 1199.5 L1400 1199.1 L1404 1203.6 L1408 1214.5 L1413 1229.0 L1417 1239.6 L1421 1249.3 L1425 1261.7 L1429 1281.0 L1433 1301.7 L1437 1319.5 L1442 1329.3 L1446 1333.4 L1450 1325.5 L1454 1320.5 L1458 1314.0 L1462 1314.9 L1466 1303.5 L1471 1293.2 L1475 1286.6 L1479 1295.7 L1483 1297.5 L1487 1286.4 L1491 1258.7 L1495 1244.8 L1500 1251.4 L1504 1280.8 L1508 1308.1 L1512 1321.3 L1516 1317.1 L1520 1310.2 L1524 1313.1 L1529 1319.7 L1533 1313.8 L1537 1286.6 L1541 1254.5 L1545 1246.3 L1549 1261.6 L1553 1284.8 L1558 1286.3 L1562 1269.2 L1566 1250.0 L1570 1232.5 L1574 1223.2 L1578 1208.0 L1582 1203.3 L1587 1200.1 L1591 1205.4 L1595 1207.4 L1599 1213.6 L1603 1218.8 L1607 1222.7 L1611 1224.1 L1616 1223.8 L1620 1231.8 L1624 1239.8 L1628 1255.8 L1632 1267.1 L1636 1278.9 L1640 1273.6 L1645 1258.2 L1649 1230.0 L1653 1209.1 L1657 1200.7 L1661 1205.1 L1665 1211.6 L1669 1210.0 L1674 1204.3 L1678 1214.1 L1682 1241.2 L1686 1284.7 L1690 1308.7 L1694 1323.2 L1699 1324.2 L1703 1328.2 L1707 1322.6 L1711 1312.0 L1715 1302.8 L1719 1299.0 L1723 1296.8 L1728 1290.5 L1732 1274.7 L1736 1249.8 L1740 1226.8 L1744 1221.8 L1748 1242.7 L1752 1272.9 L1757 1302.2 L1761 1318.1 L1765 1329.8 L1769 1335.0 L1773 1339.1 L1777 1341.2 L1781 1342.6 L1786 1344.9 L1790 1341.7 L1794 1336.1 L1798 1324.9 L1802 1322.2 L1806 1324.5 L1810 1332.7 L1815 1324.5 L1819 1303.2 L1823 1266.4 L1827 1236.9 L1831 1211.9 L1835 1201.1 L1839 1195.1 L1844 1195.0 L1848 1194.8 L1852 1199.1 L1856 1207.4 L1860 1220.0 L1864 1223.4 L1868 1226.3 L1873 1227.2 L1877 1240.9 L1881 1248.7 L1885 1253.8 L1889 1245.9 L1893 1247.6 L1897 1260.9 L1902 1292.7 L1906 1321.3 L1910 1338.9 L1914 1342.7 L1918 1342.7 L1922 1342.0 L1926 1341.3 L1931 1342.0 L1935 1344.2 L1939 1345.0 L1943 1341.0 L1947 1331.6 L1951 1321.0 L1955 1313.6 L1960 1313.5 L1964 1313.1 L1968 1305.4 L1972 1285.4 L1976 1260.5 L1980 1236.9 L1984 1217.8 L1989 1207.3 L1993 1202.9 L1997 1203.7 L2001 1202.7 L2005 1201.7 L2009 1200.7 L2013 1198.6 L2018 1197.2 L2022 1198.7 L2026 1202.3 L2030 1206.9 L2034 1215.2 L2038 1227.1 L2043 1244.8 L2047 1246.4 L2051 1249.7 L2055 1243.6 L2059 1259.9 L2063 1275.9 L2067 1298.5 L2072 1309.6 L2076 1317.6 L2080 1321.9 L2084 1325.6 L2088 1329.0 L2092 1331.4 L2096 1331.2 L2101 1326.2 L2105 1314.0 L2109 1299.5 L2113 1274.4 L2117 1248.5 L2121 1218.7 L2125 1202.6 L2130 1194.5 L2134 1198.5 L2138 1205.9 L2142 1220.3 L2146 1241.0 L2150 1264.1 L2154 1279.7 L2159 1278.5 L2163 1261.9 L2167 1239.5 L2171 1217.3 L2175 1204.5 L2179 1198.3 L2183 1197.1 L2188 1204.6 L2192 1212.1 L2196 1231.2 L2200 1249.8 L2204 1283.2 L2208 1312.9 L2212 1334.1 L2217 1337.5 L2221 1324.1 L2225 1308.8 L2229 1297.1 L2233 1299.4 L2237 1298.4 L2241 1293.9 L2246 1283.3 L2250 1273.8" stroke="#ff6d00" stroke-opacity="0.6" stroke-width="2" fill="none" stroke-linejoin="round"/>
<path d="M20 1273.9 L24 1256.6 L28 1236.6 L32 1237.8 L37 1262.1 L41 1298.3 L45 1301.7 L49 1294.1 L53 1291.0 L57 1282.2 L61 1265.9 L66 1234.6 L70 1227.6 L74 1238.0 L78 1258.3 L82 1287.3 L86 1315.0 L90 1335.6 L95 1326.4 L99 1324.1 L103 1326.7 L107 1334.2 L111 1338.2 L115 1327.3 L119 1287.9 L124 1262.9 L128 1248.8 L132 1252.1 L136 1245.9 L140 1238.4 L144 1251.1 L148 1269.4 L153 1284.6 L157 1302.0 L161 1319.3 L165 1341.6 L169 1345.6 L173 1347.0 L177 1347.0 L182 1329.2 L186 1324.1 L190 1321.6 L194 1331.4 L198 1306.8 L202 1283.2 L206 1245.2 L211 1243.9 L215 1240.6 L219 1268.3 L223 1295.8 L227 1294.8 L231 1262.4 L235 1215.1 L240 1194.5 L244 1194.5 L248 1194.5 L252 1201.0 L256 1216.2 L260 1227.8 L264 1232.8 L269 1241.6 L273 1266.7 L277 1284.4 L281 1300.9 L285 1293.3 L289 1270.0 L293 1242.5 L298 1217.4 L302 1214.8 L306 1201.8 L310 1208.5 L314 1209.7 L318 1210.5 L322 1210.0 L327 1228.1 L331 1245.8 L335 1235.6 L339 1212.9 L343 1195.4 L347 1227.4 L352 1244.9 L356 1245.2 L360 1213.1 L364 1195.6 L368 1205.6 L372 1205.6 L376 1206.6 L381 1223.5 L385 1233.2 L389 1260.4 L393 1253.6 L397 1271.3 L401 1259.5 L405 1271.4 L410 1270.9 L414 1277.3 L418 1269.9 L422 1285.9 L426 1313.8 L430 1333.0 L434 1340.9 L439 1340.9 L443 1347.0 L447 1335.2 L451 1334.4 L455 1334.4 L459 1334.6 L463 1320.3 L468 1298.3 L472 1278.8 L476 1246.7 L480 1230.4 L484 1216.0 L488 1218.7 L492 1216.9 L497 1228.0 L501 1232.3 L505 1240.2 L509 1252.3 L513 1273.3 L517 1272.4 L521 1263.8 L526 1264.6 L530 1246.8 L534 1257.2 L538 1261.5 L542 1276.3 L546 1246.0 L550 1210.9 L555 1196.1 L559 1196.1 L563 1194.5 L567 1194.5 L571 1195.8 L575 1212.3 L579 1221.2 L584 1219.9 L588 1203.4 L592 1194.5 L596 1214.1 L600 1249.4 L604 1279.2 L608 1306.2 L613 1321.8 L617 1336.0 L621 1333.4 L625 1333.4 L629 1340.3 L633 1347.0 L637 1347.0 L642 1342.5 L646 1342.1 L650 1336.8 L654 1330.2 L658 1314.2 L662 1296.5 L666 1256.7 L671 1229.0 L675 1219.6 L679 1233.7 L683 1256.6 L687 1253.8 L691 1269.2 L696 1247.2 L700 1231.5 L704 1207.0 L708 1203.8 L712 1203.8 L716 1198.9 L720 1224.3 L725 1247.3 L729 1268.6 L733 1247.3 L737 1232.1 L741 1214.8 L745 1206.3 L749 1198.6 L754 1194.6 L758 1209.2 L762 1221.5 L766 1272.4 L770 1291.6 L774 1329.3 L778 1329.3 L783 1346.2 L787 1347.0 L791 1340.2 L795 1331.3 L799 1328.9 L803 1325.7 L807 1334.6 L812 1328.1 L816 1335.1 L820 1335.1 L824 1337.7 L828 1340.7 L832 1340.6 L836 1346.9 L841 1346.9 L845 1347.0 L849 1347.0 L853 1345.2 L857 1335.2 L861 1335.0 L865 1336.7 L870 1325.7 L874 1305.2 L878 1294.0 L882 1314.3 L886 1318.8 L890 1327.7 L894 1328.5 L899 1344.7 L903 1346.8 L907 1337.1 L911 1306.2 L915 1289.6 L919 1278.2 L923 1304.4 L928 1293.9 L932 1264.2 L936 1218.1 L940 1213.6 L944 1233.1 L948 1244.6 L952 1233.4 L957 1233.6 L961 1241.0 L965 1250.9 L969 1246.4 L973 1255.7 L977 1252.0 L981 1244.1 L986 1232.0 L990 1217.9 L994 1210.6 L998 1194.5 L1002 1198.1 L1006 1212.0 L1010 1220.4 L1015 1220.0 L1019 1207.6 L1023 1205.0 L1027 1201.8 L1031 1200.3 L1035 1212.0 L1040 1235.9 L1044 1262.6 L1048 1279.7 L1052 1297.6 L1056 1304.3 L1060 1305.8 L1064 1312.0 L1069 1329.4 L1073 1344.1 L1077 1338.2 L1081 1331.4 L1085 1327.4 L1089 1336.2 L1093 1332.3 L1098 1331.3 L1102 1309.1 L1106 1303.2 L1110 1289.2 L1114 1275.6 L1118 1253.8 L1122 1230.8 L1127 1255.0 L1131 1293.3 L1135 1333.2 L1139 1344.9 L1143 1344.3 L1147 1317.9 L1151 1268.9 L1156 1218.6 L1160 1209.3 L1164 1217.2 L1168 1217.2 L1172 1205.5 L1176 1205.0 L1180 1237.6 L1185 1272.6 L1189 1302.7 L1193 1299.8 L1197 1290.7 L1201 1302.2 L1205 1313.7 L1209 1325.4 L1214 1298.6 L1218 1291.5 L1222 1292.8 L1226 1319.7 L1230 1336.4 L1234 1347.0 L1238 1339.0 L1243 1332.4 L1247 1332.4 L1251 1323.8 L1255 1319.1 L1259 1291.7 L1263 1287.9 L1267 1290.2 L1272 1290.0 L1276 1282.6 L1280 1240.8 L1284 1221.3 L1288 1206.8 L1292 1211.7 L1296 1208.0 L1301 1205.1 L1305 1221.9 L1309 1259.3 L1313 1293.7 L1317 1314.6 L1321 1326.3 L1325 1329.5 L1330 1337.8 L1334 1334.0 L1338 1337.2 L1342 1315.0 L1346 1316.2 L1350 1296.3 L1355 1302.3 L1359 1273.8 L1363 1247.0 L1367 1222.7 L1371 1204.8 L1375 1206.6 L1379 1196.3 L1384 1199.2 L1388 1200.5 L1392 1200.5 L1396 1197.6 L1400 1199.2 L1404 1214.2 L1408 1230.0 L1413 1242.9 L1417 1246.0 L1421 1259.0 L1425 1280.0 L1429 1304.0 L1433 1321.1 L1437 1333.3 L1442 1333.5 L1446 1333.3 L1450 1309.8 L1454 1318.5 L1458 1313.7 L1462 1312.6 L1466 1284.2 L1471 1282.8 L1475 1292.7 L1479 1311.7 L1483 1288.2 L1487 1259.3 L1491 1228.7 L1495 1246.3 L1500 1279.2 L1504 1317.0 L1508 1328.2 L1512 1318.8 L1516 1304.1 L1520 1307.5 L1524 1327.5 L1529 1324.2 L1533 1289.7 L1537 1245.9 L1541 1227.9 L1545 1265.0 L1549 1291.8 L1553 1297.6 L1558 1269.6 L1562 1240.3 L1566 1240.0 L1570 1217.2 L1574 1212.5 L1578 1194.5 L1582 1202.9 L1587 1202.9 L1591 1210.5 L1595 1208.6 L1599 1221.7 L1603 1226.0 L1607 1220.6 L1611 1225.8 L1616 1225.1 L1620 1244.4 L1624 1249.9 L1628 1273.3 L1632 1278.2 L1636 1285.4 L1640 1257.2 L1645 1232.0 L1649 1200.9 L1653 1194.5 L1657 1206.7 L1661 1214.0 L1665 1214.0 L1669 1201.8 L1674 1197.0 L1678 1243.5 L1682 1283.0 L1686 1327.6 L1690 1315.4 L1694 1326.7 L1699 1330.5 L1703 1327.4 L1707 1309.8 L1711 1298.8 L1715 1299.8 L1719 1298.5 L1723 1292.2 L1728 1280.8 L1732 1251.1 L1736 1217.6 L1740 1211.7 L1744 1236.2 L1748 1280.2 L1752 1302.3 L1757 1324.3 L1761 1327.6 L1765 1337.6 L1769 1339.7 L1773 1340.1 L1777 1343.8 L1781 1343.8 L1786 1347.0 L1790 1334.3 L1794 1326.9 L1798 1313.5 L1802 1326.3 L1806 1333.6 L1810 1338.1 L1815 1301.7 L1819 1269.6 L1823 1227.7 L1827 1213.2 L1831 1194.9 L1835 1195.1 L1839 1195.1 L1844 1194.7 L1848 1194.5 L1852 1208.1 L1856 1219.7 L1860 1232.0 L1864 1218.4 L1868 1228.3 L1873 1234.9 L1877 1259.4 L1881 1251.6 L1885 1250.3 L1889 1235.7 L1893 1256.9 L1897 1290.1 L1902 1331.1 L1906 1342.7 L1910 1342.7 L1914 1342.7 L1918 1342.7 L1922 1340.6 L1926 1340.6 L1931 1344.9 L1935 1347.0 L1939 1343.0 L1943 1333.0 L1947 1318.8 L1951 1311.2 L1955 1310.8 L1960 1318.6 L1964 1309.9 L1968 1287.8 L1972 1258.7 L1976 1235.1 L1980 1216.8 L1984 1201.3 L1989 1203.7 L1993 1203.7 L1997 1203.7 L2001 1200.7 L2005 1200.7 L2009 1200.7 L2013 1194.5 L2018 1196.5 L2022 1205.2 L2026 1205.2 L2030 1210.3 L2034 1230.1 L2038 1240.7 L2043 1263.5 L2047 1235.0 L2051 1250.5 L2055 1245.5 L2059 1283.8 L2063 1298.4 L2067 1313.3 L2072 1316.9 L2076 1322.5 L2080 1326.5 L2084 1328.0 L2088 1332.5 L2092 1333.6 L2096 1327.3 L2101 1317.8 L2105 1296.8 L2109 1283.9 L2113 1242.6 L2117 1218.9 L2121 1194.5 L2125 1194.5 L2130 1194.6 L2134 1206.3 L2138 1216.9 L2142 1237.7 L2146 1268.5 L2150 1286.1 L2154 1284.6 L2159 1264.7 L2163 1236.5 L2167 1217.1 L2171 1198.2 L2175 1198.2 L2179 1198.4 L2183 1194.6 L2188 1220.9 L2192 1220.8 L2196 1252.0 L2200 1276.5 L2204 1321.3 L2208 1340.9 L2212 1340.0 L2217 1331.6 L2221 1300.8 L2225 1294.1 L2229 1296.5 L2233 1307.6 L2237 1291.2 L2241 1282.8 L2246 1275.8 L2250 1262.7" stroke="#2196f3" stroke-opacity="0.6" stroke-width="2" fill="none" stroke-linejoin="round"/>
<path d="M20.5 1225H2472M20.5 1317H2472" stroke="#444" stroke-width="2" stroke-dasharray="10 11.8"/>
<rect x="21" y="1226" width="2451" height="92" fill="#aa3cf5" fill-opacity="0.235"/>
</g>
<g clip-path="url(#cpd)">
<path d="M20 1446.0V1444.0M24 1446.0V1444.0M28 1446.0V1444.0M61 1446.0V1444.0M66 1446.0V1444.0M231 1446.0V1444.0M235 1446.0V1443.1M240 1446.0V1442.2M244 1446.0V1441.6M248 1446.0V1441.2M289 1446.0V1444.0M293 1446.0V1444.0M298 1446.0V1443.5M302 1446.0V1443.2M306 1446.0V1443.1M335 1446.0V1444.0M339 1446.0V1443.3M343 1446.0V1442.9M352 1446.0V1443.4M356 1446.0V1442.9M360 1446.0V1442.2M364 1446.0V1442.0M372 1446.0V1440.8M376 1446.0V1440.1M385 1446.0V1440.2M393 1446.0V1440.6M401 1446.0V1440.9M480 1446.0V1444.0M484 1446.0V1443.9M488 1446.0V1443.6M530 1446.0V1444.0M542 1446.0V1444.0M546 1446.0V1443.0M550 1446.0V1442.4M555 1446.0V1440.9M559 1446.0V1440.1M563 1446.0V1439.1M567 1446.0V1438.6M584 1446.0V1438.7M588 1446.0V1435.8M592 1446.0V1429.0M596 1446.0V1427.9M671 1446.0V1444.0M675 1446.0V1444.0M679 1446.0V1444.0M696 1446.0V1444.0M700 1446.0V1441.5M704 1446.0V1440.6M708 1446.0V1440.4M712 1446.0V1439.6M716 1446.0V1435.2M725 1446.0V1436.1M733 1446.0V1434.3M737 1446.0V1433.6M741 1446.0V1433.2M745 1446.0V1432.8M749 1446.0V1432.0M754 1446.0V1430.1M936 1446.0V1441.0M948 1446.0V1440.2M952 1446.0V1438.9M969 1446.0V1441.1M977 1446.0V1442.3M981 1446.0V1440.7M986 1446.0V1440.3M990 1446.0V1437.2M994 1446.0V1433.9M998 1446.0V1431.2M1002 1446.0V1430.6M1027 1446.0V1434.8M1031 1446.0V1434.2M1156 1446.0V1444.0M1160 1446.0V1444.0M1164 1446.0V1443.6M1168 1446.0V1441.0M1172 1446.0V1439.6M1284 1446.0V1444.0M1288 1446.0V1443.5M1292 1446.0V1442.7M1296 1446.0V1441.5M1301 1446.0V1441.3M1363 1446.0V1443.8M1367 1446.0V1443.0M1371 1446.0V1441.0M1375 1446.0V1439.8M1379 1446.0V1437.3M1384 1446.0V1436.3M1388 1446.0V1436.0M1392 1446.0V1434.6M1396 1446.0V1432.3M1400 1446.0V1432.1M1491 1446.0V1444.0M1537 1446.0V1444.0M1541 1446.0V1444.0M1570 1446.0V1444.0M1574 1446.0V1442.9M1578 1446.0V1440.2M1582 1446.0V1439.5M1587 1446.0V1437.7M1591 1446.0V1437.7M1607 1446.0V1439.2M1632 1446.0V1443.0M1640 1446.0V1442.8M1645 1446.0V1441.6M1649 1446.0V1440.9M1653 1446.0V1440.2M1665 1446.0V1440.9M1669 1446.0V1439.7M1674 1446.0V1439.5M1732 1446.0V1444.0M1736 1446.0V1443.3M1827 1446.0V1443.9M1831 1446.0V1442.8M1835 1446.0V1442.3M1839 1446.0V1441.8M1844 1446.0V1440.8M1848 1446.0V1438.8M1864 1446.0V1436.4M1881 1446.0V1436.8M1889 1446.0V1436.6M1984 1446.0V1443.2M1989 1446.0V1442.6M1993 1446.0V1440.8M1997 1446.0V1439.4M2001 1446.0V1439.0M2005 1446.0V1437.4M2009 1446.0V1436.4M2013 1446.0V1435.3M2018 1446.0V1434.9M2026 1446.0V1435.0M2047 1446.0V1432.0M2109 1446.0V1444.0M2113 1446.0V1443.3M2117 1446.0V1441.6M2121 1446.0V1440.5M2125 1446.0V1439.7M2130 1446.0V1439.4M2154 1446.0V1443.2M2163 1446.0V1442.5M2167 1446.0V1441.2M2171 1446.0V1440.8M2175 1446.0V1440.2M2179 1446.0V1440.1M2192 1446.0V1441.1M2250 1446.0V1444.0" stroke="#26a69a" stroke-width="2" fill="none"/>
<path d="M32 1446.0V1444.0M37 1446.0V1444.0M70 1446.0V1444.0M74 1446.0V1444.0M252 1446.0V1441.3M256 1446.0V1441.9M260 1446.0V1442.2M264 1446.0V1442.6M269 1446.0V1443.4M273 1446.0V1444.0M310 1446.0V1443.4M314 1446.0V1443.5M318 1446.0V1443.6M322 1446.0V1443.9M327 1446.0V1444.0M331 1446.0V1444.0M347 1446.0V1443.4M368 1446.0V1442.3M381 1446.0V1441.3M389 1446.0V1440.7M397 1446.0V1441.2M405 1446.0V1441.4M410 1446.0V1441.5M414 1446.0V1441.6M418 1446.0V1442.1M422 1446.0V1443.2M492 1446.0V1443.8M497 1446.0V1444.0M501 1446.0V1444.0M505 1446.0V1444.0M534 1446.0V1444.0M538 1446.0V1444.0M571 1446.0V1438.9M575 1446.0V1440.1M579 1446.0V1440.5M600 1446.0V1429.5M604 1446.0V1430.1M608 1446.0V1432.6M613 1446.0V1437.3M617 1446.0V1439.3M621 1446.0V1441.3M720 1446.0V1436.2M729 1446.0V1436.5M758 1446.0V1431.3M762 1446.0V1432.8M766 1446.0V1438.9M770 1446.0V1439.7M774 1446.0V1443.1M940 1446.0V1441.2M944 1446.0V1441.4M957 1446.0V1440.3M961 1446.0V1440.9M965 1446.0V1441.2M973 1446.0V1442.9M1006 1446.0V1432.2M1010 1446.0V1432.9M1015 1446.0V1433.1M1019 1446.0V1433.6M1023 1446.0V1435.0M1035 1446.0V1436.1M1040 1446.0V1438.5M1044 1446.0V1439.3M1048 1446.0V1440.6M1052 1446.0V1442.3M1056 1446.0V1443.1M1060 1446.0V1444.0M1176 1446.0V1439.7M1180 1446.0V1442.0M1185 1446.0V1444.0M1305 1446.0V1442.4M1309 1446.0V1444.0M1404 1446.0V1433.8M1408 1446.0V1435.5M1413 1446.0V1437.1M1417 1446.0V1438.2M1421 1446.0V1440.3M1425 1446.0V1441.8M1429 1446.0V1443.2M1433 1446.0V1444.0M1595 1446.0V1437.9M1599 1446.0V1439.1M1603 1446.0V1439.8M1611 1446.0V1440.3M1616 1446.0V1440.6M1620 1446.0V1441.7M1624 1446.0V1442.2M1628 1446.0V1443.0M1636 1446.0V1443.3M1657 1446.0V1440.6M1661 1446.0V1440.9M1678 1446.0V1442.1M1682 1446.0V1443.5M1686 1446.0V1444.0M1690 1446.0V1444.0M1740 1446.0V1443.7M1744 1446.0V1444.0M1852 1446.0V1438.9M1856 1446.0V1439.1M1860 1446.0V1439.6M1868 1446.0V1436.8M1873 1446.0V1437.1M1877 1446.0V1437.8M1885 1446.0V1437.0M1893 1446.0V1438.3M1897 1446.0V1440.9M1902 1446.0V1443.3M1906 1446.0V1444.0M2022 1446.0V1435.2M2030 1446.0V1435.5M2034 1446.0V1437.1M2038 1446.0V1437.6M2043 1446.0V1439.1M2051 1446.0V1433.1M2055 1446.0V1433.9M2059 1446.0V1437.4M2063 1446.0V1440.4M2067 1446.0V1442.3M2072 1446.0V1443.9M2134 1446.0V1440.1M2138 1446.0V1440.6M2142 1446.0V1441.6M2146 1446.0V1443.1M2150 1446.0V1443.4M2159 1446.0V1443.3M2183 1446.0V1440.2M2188 1446.0V1441.6M2196 1446.0V1442.8" stroke="#b2dfdb" stroke-width="2" fill="none"/>
<path d="M49 1444.0V1446.0M57 1444.0V1446.0M95 1444.0V1447.1M115 1444.0V1450.2M119 1444.0V1448.2M124 1444.0V1447.2M128 1444.0V1446.6M132 1444.0V1446.3M136 1444.0V1446.0M140 1444.0V1446.0M173 1444.0V1448.7M182 1444.0V1448.1M190 1444.0V1448.1M194 1444.0V1447.7M198 1444.0V1446.8M202 1444.0V1446.3M206 1444.0V1446.0M211 1444.0V1446.0M215 1444.0V1446.0M227 1444.0V1446.0M285 1444.0V1446.0M447 1444.0V1450.2M459 1444.0V1450.8M463 1444.0V1449.9M468 1444.0V1448.6M472 1444.0V1446.9M476 1444.0V1446.0M517 1444.0V1446.0M521 1444.0V1446.0M650 1444.0V1455.6M654 1444.0V1454.2M658 1444.0V1452.2M662 1444.0V1450.5M666 1444.0V1446.6M687 1444.0V1446.0M795 1444.0V1451.9M803 1444.0V1451.9M812 1444.0V1452.9M853 1444.0V1463.2M857 1444.0V1461.1M861 1444.0V1460.8M865 1444.0V1460.2M870 1444.0V1456.8M874 1444.0V1454.3M878 1444.0V1453.4M886 1444.0V1452.9M890 1444.0V1452.8M907 1444.0V1456.4M911 1444.0V1453.1M915 1444.0V1452.3M919 1444.0V1450.9M928 1444.0V1450.1M932 1444.0V1446.0M1102 1444.0V1451.8M1106 1444.0V1451.1M1110 1444.0V1450.3M1114 1444.0V1448.5M1118 1444.0V1447.2M1122 1444.0V1446.6M1147 1444.0V1449.1M1151 1444.0V1446.8M1197 1444.0V1446.0M1209 1444.0V1447.2M1214 1444.0V1446.0M1218 1444.0V1446.0M1251 1444.0V1454.5M1255 1444.0V1453.9M1259 1444.0V1451.1M1263 1444.0V1450.0M1272 1444.0V1449.6M1276 1444.0V1448.7M1280 1444.0V1446.0M1325 1444.0V1447.7M1338 1444.0V1449.1M1342 1444.0V1447.5M1350 1444.0V1446.9M1355 1444.0V1446.8M1359 1444.0V1446.0M1450 1444.0V1446.0M1462 1444.0V1447.2M1466 1444.0V1446.6M1483 1444.0V1446.3M1487 1444.0V1446.0M1512 1444.0V1446.4M1516 1444.0V1446.2M1529 1444.0V1446.8M1533 1444.0V1446.0M1553 1444.0V1446.7M1558 1444.0V1446.5M1562 1444.0V1446.0M1566 1444.0V1446.0M1703 1444.0V1447.6M1707 1444.0V1447.2M1715 1444.0V1447.0M1719 1444.0V1446.6M1728 1444.0V1446.0M1790 1444.0V1450.9M1794 1444.0V1450.7M1798 1444.0V1450.2M1810 1444.0V1449.9M1815 1444.0V1448.4M1819 1444.0V1447.4M1823 1444.0V1446.0M1939 1444.0V1479.5M1943 1444.0V1475.2M1947 1444.0V1470.0M1951 1444.0V1467.6M1955 1444.0V1465.3M1960 1444.0V1465.2M1964 1444.0V1460.9M1968 1444.0V1457.3M1972 1444.0V1453.5M1976 1444.0V1449.6M1980 1444.0V1446.1M2096 1444.0V1447.1M2101 1444.0V1446.7M2105 1444.0V1446.0M2217 1444.0V1449.4M2221 1444.0V1447.6M2229 1444.0V1448.5M2233 1444.0V1447.7M2237 1444.0V1446.6M2241 1444.0V1446.1M2246 1444.0V1446.0" stroke="#ffcdd2" stroke-width="2" fill="none"/>
<path d="M41 1444.0V1446.0M45 1444.0V1446.0M53 1444.0V1446.1M78 1444.0V1446.0M82 1444.0V1446.0M86 1444.0V1446.5M90 1444.0V1447.2M99 1444.0V1447.2M103 1444.0V1449.3M107 1444.0V1450.5M111 1444.0V1450.6M144 1444.0V1446.3M148 1444.0V1446.7M153 1444.0V1446.8M157 1444.0V1447.5M161 1444.0V1448.0M165 1444.0V1448.6M169 1444.0V1448.8M177 1444.0V1448.8M186 1444.0V1448.1M219 1444.0V1446.0M223 1444.0V1446.0M277 1444.0V1446.0M281 1444.0V1446.0M426 1444.0V1446.0M430 1444.0V1446.0M434 1444.0V1447.9M439 1444.0V1449.2M443 1444.0V1450.4M451 1444.0V1450.7M455 1444.0V1451.4M509 1444.0V1446.0M513 1444.0V1446.0M526 1444.0V1446.0M625 1444.0V1446.0M629 1444.0V1448.8M633 1444.0V1452.5M637 1444.0V1455.0M642 1444.0V1455.3M646 1444.0V1456.1M683 1444.0V1446.0M691 1444.0V1446.1M778 1444.0V1446.8M783 1444.0V1449.7M787 1444.0V1451.9M791 1444.0V1452.1M799 1444.0V1452.8M807 1444.0V1453.5M816 1444.0V1453.4M820 1444.0V1454.6M824 1444.0V1454.7M828 1444.0V1457.5M832 1444.0V1459.0M836 1444.0V1459.8M841 1444.0V1461.3M845 1444.0V1462.5M849 1444.0V1463.5M882 1444.0V1453.9M894 1444.0V1455.1M899 1444.0V1457.1M903 1444.0V1457.6M923 1444.0V1451.9M1064 1444.0V1446.0M1069 1444.0V1446.7M1073 1444.0V1449.1M1077 1444.0V1449.8M1081 1444.0V1450.4M1085 1444.0V1450.9M1089 1444.0V1452.7M1093 1444.0V1452.8M1098 1444.0V1453.1M1127 1444.0V1447.6M1131 1444.0V1449.3M1135 1444.0V1450.1M1139 1444.0V1450.6M1143 1444.0V1450.7M1189 1444.0V1446.0M1193 1444.0V1446.0M1201 1444.0V1447.3M1205 1444.0V1447.4M1222 1444.0V1446.0M1226 1444.0V1448.3M1230 1444.0V1451.1M1234 1444.0V1454.1M1238 1444.0V1454.7M1243 1444.0V1454.8M1247 1444.0V1456.0M1267 1444.0V1451.2M1313 1444.0V1446.0M1317 1444.0V1446.9M1321 1444.0V1447.8M1330 1444.0V1449.1M1334 1444.0V1449.3M1346 1444.0V1448.1M1437 1444.0V1446.0M1442 1444.0V1446.0M1446 1444.0V1446.1M1454 1444.0V1447.1M1458 1444.0V1447.7M1471 1444.0V1447.1M1475 1444.0V1447.2M1479 1444.0V1447.3M1495 1444.0V1446.0M1500 1444.0V1446.0M1504 1444.0V1446.5M1508 1444.0V1446.8M1520 1444.0V1446.4M1524 1444.0V1447.2M1545 1444.0V1446.8M1549 1444.0V1447.3M1694 1444.0V1446.3M1699 1444.0V1448.6M1711 1444.0V1447.6M1723 1444.0V1446.6M1748 1444.0V1446.8M1752 1444.0V1447.6M1757 1444.0V1448.5M1761 1444.0V1448.9M1765 1444.0V1449.1M1769 1444.0V1450.0M1773 1444.0V1450.3M1777 1444.0V1450.6M1781 1444.0V1451.3M1786 1444.0V1451.8M1802 1444.0V1450.4M1806 1444.0V1450.4M1910 1444.0V1447.4M1914 1444.0V1454.0M1918 1444.0V1457.1M1922 1444.0V1459.2M1926 1444.0V1468.8M1931 1444.0V1476.3M1935 1444.0V1480.2M2076 1444.0V1446.0M2080 1444.0V1446.4M2084 1444.0V1446.5M2088 1444.0V1448.5M2092 1444.0V1448.5M2200 1444.0V1446.0M2204 1444.0V1446.8M2208 1444.0V1448.9M2212 1444.0V1449.9M2225 1444.0V1448.5" stroke="#ff5252" stroke-width="2" fill="none"/>
<path d="M20 1432.4 L24 1431.6 L28 1431.2 L32 1431.7 L37 1432.0 L41 1433.1 L45 1433.5 L49 1433.2 L53 1434.0 L57 1433.8 L61 1432.5 L66 1432.0 L70 1431.9 L74 1431.8 L78 1432.6 L82 1433.7 L86 1434.6 L90 1435.8 L95 1436.3 L99 1436.9 L103 1440.0 L107 1442.7 L111 1444.2 L115 1445.0 L119 1443.8 L124 1443.4 L128 1443.2 L132 1443.2 L136 1443.1 L140 1443.1 L144 1443.9 L148 1444.7 L153 1445.3 L157 1446.7 L161 1447.9 L165 1449.4 L169 1450.5 L173 1451.3 L177 1452.4 L182 1452.4 L186 1453.2 L190 1454.0 L194 1454.2 L198 1453.9 L202 1453.7 L206 1452.9 L211 1452.8 L215 1452.7 L219 1452.9 L223 1453.6 L227 1453.4 L231 1452.1 L235 1450.4 L240 1448.8 L244 1447.4 L248 1446.0 L252 1445.1 L256 1445.0 L260 1444.6 L264 1444.3 L269 1444.8 L273 1445.9 L277 1446.4 L281 1446.9 L285 1446.7 L289 1445.6 L293 1445.0 L298 1444.1 L302 1443.4 L306 1442.9 L310 1442.8 L314 1442.5 L318 1442.2 L322 1442.2 L327 1442.7 L331 1442.8 L335 1442.0 L339 1440.7 L343 1439.8 L347 1440.0 L352 1439.6 L356 1438.5 L360 1437.2 L364 1436.2 L368 1435.8 L372 1433.2 L376 1431.4 L381 1431.6 L385 1429.3 L389 1428.7 L393 1427.5 L397 1427.2 L401 1425.8 L405 1425.5 L410 1424.7 L414 1423.9 L418 1423.7 L422 1424.4 L426 1426.2 L430 1427.4 L434 1430.1 L439 1432.4 L443 1434.9 L447 1436.0 L451 1437.9 L455 1440.3 L459 1441.1 L463 1441.4 L468 1441.0 L472 1439.8 L476 1438.0 L480 1437.4 L484 1436.4 L488 1435.8 L492 1435.7 L497 1436.0 L501 1435.9 L505 1436.4 L509 1437.4 L513 1437.9 L517 1437.5 L521 1437.4 L526 1437.7 L530 1436.3 L534 1436.4 L538 1436.8 L542 1436.1 L546 1434.3 L550 1433.0 L555 1430.4 L559 1428.5 L563 1426.0 L567 1423.9 L571 1422.6 L575 1422.6 L579 1421.9 L584 1418.5 L588 1413.3 L592 1402.5 L596 1397.1 L600 1394.9 L604 1391.7 L608 1391.1 L613 1393.9 L617 1394.5 L621 1395.5 L625 1399.6 L629 1404.1 L633 1409.7 L637 1414.7 L642 1417.5 L646 1421.1 L650 1423.3 L654 1424.1 L658 1423.9 L662 1423.6 L666 1420.2 L671 1418.3 L675 1418.3 L679 1417.9 L683 1419.3 L687 1418.8 L691 1419.9 L696 1417.8 L700 1414.3 L704 1412.3 L708 1410.9 L712 1408.7 L716 1401.9 L720 1400.7 L725 1398.4 L729 1396.6 L733 1391.7 L737 1388.3 L741 1384.9 L745 1381.5 L749 1377.3 L754 1371.7 L758 1369.6 L762 1368.0 L766 1372.6 L770 1372.0 L774 1374.9 L778 1379.1 L783 1383.1 L787 1387.1 L791 1389.0 L795 1390.6 L799 1393.4 L803 1394.3 L807 1398.0 L812 1399.4 L816 1401.9 L820 1405.6 L824 1408.1 L828 1414.0 L832 1419.0 L836 1423.5 L841 1429.0 L845 1434.7 L849 1440.3 L853 1444.5 L857 1446.5 L861 1450.1 L865 1453.3 L870 1452.8 L874 1452.7 L878 1453.9 L882 1456.6 L886 1457.5 L890 1459.4 L894 1464.3 L899 1469.3 L903 1472.9 L907 1474.5 L911 1473.3 L915 1474.4 L919 1474.4 L923 1477.2 L928 1476.6 L932 1472.7 L936 1466.7 L940 1466.0 L944 1465.3 L948 1462.9 L952 1460.1 L957 1460.3 L961 1459.9 L965 1459.2 L969 1458.1 L973 1459.5 L977 1458.2 L981 1455.5 L986 1453.9 L990 1448.8 L994 1442.8 L998 1436.6 L1002 1432.4 L1006 1430.8 L1010 1428.5 L1015 1425.7 L1019 1423.4 L1023 1422.3 L1027 1419.5 L1031 1416.2 L1035 1415.8 L1040 1416.6 L1044 1416.0 L1048 1416.3 L1052 1417.3 L1056 1417.6 L1060 1418.4 L1064 1419.5 L1069 1421.4 L1073 1424.8 L1077 1426.8 L1081 1428.7 L1085 1430.7 L1089 1434.5 L1093 1436.5 L1098 1438.8 L1102 1439.2 L1106 1440.0 L1110 1440.5 L1114 1439.6 L1118 1438.8 L1122 1438.6 L1127 1440.3 L1131 1443.0 L1135 1445.1 L1139 1447.0 L1143 1448.5 L1147 1448.0 L1151 1446.1 L1156 1444.0 L1160 1443.2 L1164 1442.3 L1168 1438.7 L1172 1436.0 L1176 1434.7 L1180 1436.3 L1185 1438.1 L1189 1439.9 L1193 1440.3 L1197 1440.4 L1201 1442.5 L1205 1443.2 L1209 1443.5 L1214 1442.3 L1218 1442.3 L1222 1443.0 L1226 1446.0 L1230 1450.4 L1234 1455.6 L1238 1458.7 L1243 1461.3 L1247 1465.2 L1251 1466.0 L1255 1467.6 L1259 1466.3 L1263 1466.6 L1267 1469.3 L1272 1468.9 L1276 1468.8 L1280 1466.1 L1284 1464.2 L1288 1463.2 L1292 1461.8 L1296 1459.7 L1301 1458.6 L1305 1459.1 L1309 1461.1 L1313 1462.7 L1317 1464.2 L1321 1465.8 L1325 1466.4 L1330 1468.8 L1334 1470.0 L1338 1470.9 L1342 1469.9 L1346 1471.3 L1350 1470.5 L1355 1470.9 L1359 1470.4 L1363 1467.9 L1367 1466.6 L1371 1463.5 L1375 1461.1 L1379 1456.7 L1384 1453.5 L1388 1450.9 L1392 1446.9 L1396 1441.5 L1400 1438.1 L1404 1436.9 L1408 1436.3 L1413 1435.9 L1417 1435.3 L1421 1436.2 L1425 1436.9 L1429 1437.9 L1433 1438.4 L1437 1439.8 L1442 1440.3 L1446 1441.0 L1450 1440.3 L1454 1442.6 L1458 1443.9 L1462 1444.0 L1466 1443.8 L1471 1444.7 L1475 1445.4 L1479 1446.1 L1483 1445.4 L1487 1444.4 L1491 1443.7 L1495 1444.3 L1500 1445.2 L1504 1446.2 L1508 1447.0 L1512 1446.9 L1516 1447.0 L1520 1447.6 L1524 1448.9 L1529 1449.0 L1533 1448.2 L1537 1447.3 L1541 1446.8 L1545 1449.5 L1549 1450.6 L1553 1450.4 L1558 1450.6 L1562 1449.5 L1566 1449.5 L1570 1448.1 L1574 1446.4 L1578 1442.5 L1582 1440.5 L1587 1436.8 L1591 1435.0 L1595 1433.4 L1599 1433.1 L1603 1432.5 L1607 1430.4 L1611 1430.4 L1616 1429.6 L1620 1429.8 L1624 1429.7 L1628 1430.0 L1632 1429.4 L1636 1429.3 L1640 1428.3 L1645 1426.3 L1649 1424.5 L1653 1422.6 L1657 1422.0 L1661 1421.3 L1665 1420.2 L1669 1417.6 L1674 1416.0 L1678 1417.9 L1682 1418.9 L1686 1420.2 L1690 1420.2 L1694 1422.0 L1699 1425.2 L1703 1424.8 L1707 1424.9 L1711 1426.1 L1715 1425.9 L1719 1425.9 L1723 1426.3 L1728 1424.8 L1732 1424.0 L1736 1422.5 L1740 1422.5 L1744 1423.6 L1748 1426.0 L1752 1427.5 L1757 1429.2 L1761 1430.7 L1765 1431.9 L1769 1434.1 L1773 1435.6 L1777 1437.4 L1781 1439.6 L1786 1441.8 L1790 1442.5 L1794 1443.7 L1798 1444.4 L1802 1446.0 L1806 1447.4 L1810 1448.1 L1815 1447.4 L1819 1447.1 L1823 1445.4 L1827 1443.4 L1831 1441.8 L1835 1440.6 L1839 1439.2 L1844 1437.3 L1848 1433.7 L1852 1432.3 L1856 1430.9 L1860 1430.1 L1864 1424.8 L1868 1423.2 L1873 1421.5 L1877 1420.4 L1881 1417.4 L1885 1415.6 L1889 1413.1 L1893 1413.0 L1897 1414.6 L1902 1416.6 L1906 1418.0 L1910 1421.2 L1914 1430.1 L1918 1436.2 L1922 1441.9 L1926 1457.4 L1931 1472.7 L1935 1485.4 L1939 1493.3 L1943 1496.6 L1947 1497.7 L1951 1500.9 L1955 1503.7 L1960 1508.6 L1964 1508.4 L1968 1507.7 L1972 1506.1 L1976 1503.4 L1980 1500.1 L1984 1496.8 L1989 1495.6 L1993 1492.8 L1997 1490.0 L2001 1488.1 L2005 1484.6 L2009 1481.4 L2013 1477.9 L2018 1475.0 L2022 1472.9 L2026 1470.2 L2030 1468.2 L2034 1467.9 L2038 1466.5 L2043 1466.5 L2047 1456.3 L2051 1454.3 L2055 1452.4 L2059 1454.0 L2063 1455.9 L2067 1457.0 L2072 1458.3 L2076 1460.4 L2080 1461.4 L2084 1461.9 L2088 1464.7 L2092 1465.6 L2096 1464.7 L2101 1464.7 L2105 1463.8 L2109 1462.9 L2113 1461.0 L2117 1458.4 L2121 1456.2 L2125 1454.1 L2130 1452.4 L2134 1451.8 L2138 1451.2 L2142 1451.5 L2146 1452.5 L2150 1452.3 L2154 1451.7 L2159 1451.3 L2163 1449.9 L2167 1447.7 L2171 1446.2 L2175 1444.5 L2179 1443.1 L2183 1442.0 L2188 1442.5 L2192 1441.1 L2196 1442.2 L2200 1445.0 L2204 1446.8 L2208 1449.9 L2212 1452.1 L2217 1452.7 L2221 1451.5 L2225 1453.3 L2229 1454.2 L2233 1454.0 L2237 1453.4 L2241 1453.1 L2246 1452.3 L2250 1451.9" stroke="#2196f3" stroke-width="2" fill="none" stroke-linejoin="round"/>
<path d="M20 1432.8 L24 1432.5 L28 1432.3 L32 1432.1 L37 1432.1 L41 1432.3 L45 1432.5 L49 1432.7 L53 1432.9 L57 1433.1 L61 1433.0 L66 1432.8 L70 1432.6 L74 1432.5 L78 1432.5 L82 1432.7 L86 1433.1 L90 1433.6 L95 1434.2 L99 1434.7 L103 1435.8 L107 1437.2 L111 1438.6 L115 1439.9 L119 1440.7 L124 1441.2 L128 1441.6 L132 1441.9 L136 1442.2 L140 1442.4 L144 1442.7 L148 1443.1 L153 1443.5 L157 1444.2 L161 1444.9 L165 1445.8 L169 1446.7 L173 1447.7 L177 1448.6 L182 1449.4 L186 1450.1 L190 1450.9 L194 1451.6 L198 1452.0 L202 1452.4 L206 1452.5 L211 1452.5 L215 1452.6 L219 1452.6 L223 1452.8 L227 1452.9 L231 1452.8 L235 1452.3 L240 1451.6 L244 1450.8 L248 1449.8 L252 1448.9 L256 1448.1 L260 1447.4 L264 1446.8 L269 1446.4 L273 1446.3 L277 1446.3 L281 1446.4 L285 1446.5 L289 1446.3 L293 1446.1 L298 1445.7 L302 1445.2 L306 1444.8 L310 1444.4 L314 1444.0 L318 1443.6 L322 1443.4 L327 1443.2 L331 1443.1 L335 1442.9 L339 1442.5 L343 1441.9 L347 1441.6 L352 1441.2 L356 1440.6 L360 1439.9 L364 1439.2 L368 1438.5 L372 1437.5 L376 1436.2 L381 1435.3 L385 1434.1 L389 1433.0 L393 1431.9 L397 1431.0 L401 1430.0 L405 1429.1 L410 1428.2 L414 1427.3 L418 1426.6 L422 1426.2 L426 1426.2 L430 1426.4 L434 1427.1 L439 1428.2 L443 1429.5 L447 1430.8 L451 1432.2 L455 1433.9 L459 1435.3 L463 1436.5 L468 1437.4 L472 1437.9 L476 1437.9 L480 1437.8 L484 1437.5 L488 1437.2 L492 1436.9 L497 1436.7 L501 1436.6 L505 1436.5 L509 1436.7 L513 1436.9 L517 1437.1 L521 1437.1 L526 1437.2 L530 1437.1 L534 1436.9 L538 1436.9 L542 1436.7 L546 1436.2 L550 1435.6 L555 1434.6 L559 1433.4 L563 1431.9 L567 1430.3 L571 1428.8 L575 1427.5 L579 1426.4 L584 1424.8 L588 1422.5 L592 1418.5 L596 1414.2 L600 1410.4 L604 1406.6 L608 1403.5 L613 1401.6 L617 1400.2 L621 1399.2 L625 1399.3 L629 1400.3 L633 1402.2 L637 1404.7 L642 1407.2 L646 1410.0 L650 1412.7 L654 1414.9 L658 1416.7 L662 1418.1 L666 1418.5 L671 1418.5 L675 1418.4 L679 1418.3 L683 1418.5 L687 1418.6 L691 1418.8 L696 1418.6 L700 1417.8 L704 1416.7 L708 1415.5 L712 1414.2 L716 1411.7 L720 1409.5 L725 1407.3 L729 1405.2 L733 1402.5 L737 1399.6 L741 1396.7 L745 1393.6 L749 1390.4 L754 1386.6 L758 1383.2 L762 1380.2 L766 1378.7 L770 1377.3 L774 1376.9 L778 1377.3 L783 1378.5 L787 1380.2 L791 1381.9 L795 1383.7 L799 1385.6 L803 1387.4 L807 1389.5 L812 1391.5 L816 1393.6 L820 1396.0 L824 1398.4 L828 1401.5 L832 1405.0 L836 1408.7 L841 1412.8 L845 1417.2 L849 1421.8 L853 1426.3 L857 1430.4 L861 1434.3 L865 1438.1 L870 1441.1 L874 1443.4 L878 1445.5 L882 1447.7 L886 1449.7 L890 1451.6 L894 1454.2 L899 1457.2 L903 1460.3 L907 1463.2 L911 1465.2 L915 1467.0 L919 1468.5 L923 1470.2 L928 1471.5 L932 1471.8 L936 1470.8 L940 1469.8 L944 1468.9 L948 1467.7 L952 1466.2 L957 1465.0 L961 1464.0 L965 1463.0 L969 1462.0 L973 1461.5 L977 1460.8 L981 1459.8 L986 1458.6 L990 1456.6 L994 1453.9 L998 1450.4 L1002 1446.8 L1006 1443.6 L1010 1440.6 L1015 1437.6 L1019 1434.8 L1023 1432.3 L1027 1429.7 L1031 1427.0 L1035 1424.8 L1040 1423.2 L1044 1421.7 L1048 1420.6 L1052 1420.0 L1056 1419.5 L1060 1419.3 L1064 1419.3 L1069 1419.7 L1073 1420.7 L1077 1422.0 L1081 1423.3 L1085 1424.8 L1089 1426.7 L1093 1428.7 L1098 1430.7 L1102 1432.4 L1106 1433.9 L1110 1435.2 L1114 1436.1 L1118 1436.7 L1122 1437.0 L1127 1437.7 L1131 1438.8 L1135 1440.0 L1139 1441.4 L1143 1442.9 L1147 1443.9 L1151 1444.3 L1156 1444.2 L1160 1444.0 L1164 1443.7 L1168 1442.7 L1172 1441.4 L1176 1440.0 L1180 1439.3 L1185 1439.0 L1189 1439.2 L1193 1439.4 L1197 1439.6 L1201 1440.2 L1205 1440.8 L1209 1441.3 L1214 1441.5 L1218 1441.7 L1222 1441.9 L1226 1442.8 L1230 1444.3 L1234 1446.6 L1238 1449.0 L1243 1451.4 L1247 1454.2 L1251 1456.6 L1255 1458.8 L1259 1460.3 L1263 1461.5 L1267 1463.1 L1272 1464.2 L1276 1465.2 L1280 1465.3 L1284 1465.1 L1288 1464.7 L1292 1464.2 L1296 1463.3 L1301 1462.3 L1305 1461.7 L1309 1461.6 L1313 1461.8 L1317 1462.3 L1321 1463.0 L1325 1463.7 L1330 1464.7 L1334 1465.7 L1338 1466.8 L1342 1467.4 L1346 1468.2 L1350 1468.6 L1355 1469.1 L1359 1469.4 L1363 1469.1 L1367 1468.6 L1371 1467.6 L1375 1466.3 L1379 1464.3 L1384 1462.2 L1388 1459.9 L1392 1457.3 L1396 1454.2 L1400 1450.9 L1404 1448.1 L1408 1445.8 L1413 1443.8 L1417 1442.1 L1421 1440.9 L1425 1440.1 L1429 1439.7 L1433 1439.4 L1437 1439.5 L1442 1439.7 L1446 1439.9 L1450 1440.0 L1454 1440.5 L1458 1441.2 L1462 1441.7 L1466 1442.2 L1471 1442.7 L1475 1443.2 L1479 1443.8 L1483 1444.1 L1487 1444.2 L1491 1444.1 L1495 1444.1 L1500 1444.3 L1504 1444.7 L1508 1445.2 L1512 1445.5 L1516 1445.8 L1520 1446.2 L1524 1446.7 L1529 1447.2 L1533 1447.4 L1537 1447.4 L1541 1447.2 L1545 1447.7 L1549 1448.3 L1553 1448.7 L1558 1449.1 L1562 1449.2 L1566 1449.2 L1570 1449.0 L1574 1448.5 L1578 1447.3 L1582 1445.9 L1587 1444.1 L1591 1442.3 L1595 1440.5 L1599 1439.0 L1603 1437.7 L1607 1436.3 L1611 1435.1 L1616 1434.0 L1620 1433.2 L1624 1432.5 L1628 1432.0 L1632 1431.5 L1636 1431.0 L1640 1430.5 L1645 1429.6 L1649 1428.6 L1653 1427.4 L1657 1426.3 L1661 1425.3 L1665 1424.3 L1669 1422.9 L1674 1421.6 L1678 1420.8 L1682 1420.5 L1686 1420.4 L1690 1420.4 L1694 1420.7 L1699 1421.6 L1703 1422.2 L1707 1422.8 L1711 1423.4 L1715 1423.9 L1719 1424.3 L1723 1424.7 L1728 1424.7 L1732 1424.6 L1736 1424.2 L1740 1423.8 L1744 1423.8 L1748 1424.2 L1752 1424.9 L1757 1425.8 L1761 1426.7 L1765 1427.8 L1769 1429.0 L1773 1430.4 L1777 1431.8 L1781 1433.3 L1786 1435.0 L1790 1436.5 L1794 1437.9 L1798 1439.2 L1802 1440.6 L1806 1442.0 L1810 1443.2 L1815 1444.0 L1819 1444.6 L1823 1444.8 L1827 1444.5 L1831 1444.0 L1835 1443.3 L1839 1442.5 L1844 1441.4 L1848 1439.9 L1852 1438.4 L1856 1436.9 L1860 1435.5 L1864 1433.4 L1868 1431.3 L1873 1429.4 L1877 1427.6 L1881 1425.5 L1885 1423.5 L1889 1421.5 L1893 1419.8 L1897 1418.7 L1902 1418.3 L1906 1418.2 L1910 1418.8 L1914 1421.1 L1918 1424.1 L1922 1427.7 L1926 1433.6 L1931 1441.4 L1935 1450.2 L1939 1458.8 L1943 1466.4 L1947 1472.6 L1951 1478.3 L1955 1483.4 L1960 1488.4 L1964 1492.4 L1968 1495.5 L1972 1497.6 L1976 1498.8 L1980 1499.0 L1984 1498.6 L1989 1498.0 L1993 1496.9 L1997 1495.5 L2001 1494.1 L2005 1492.2 L2009 1490.0 L2013 1487.6 L2018 1485.1 L2022 1482.6 L2026 1480.1 L2030 1477.8 L2034 1475.8 L2038 1473.9 L2043 1472.4 L2047 1469.2 L2051 1466.2 L2055 1463.5 L2059 1461.6 L2063 1460.4 L2067 1459.7 L2072 1459.5 L2076 1459.6 L2080 1460.0 L2084 1460.4 L2088 1461.2 L2092 1462.1 L2096 1462.6 L2101 1463.1 L2105 1463.2 L2109 1463.1 L2113 1462.7 L2117 1461.9 L2121 1460.7 L2125 1459.4 L2130 1458.0 L2134 1456.8 L2138 1455.7 L2142 1454.8 L2146 1454.3 L2150 1453.9 L2154 1453.5 L2159 1453.1 L2163 1452.4 L2167 1451.5 L2171 1450.4 L2175 1449.2 L2179 1448.0 L2183 1446.8 L2188 1445.9 L2192 1445.0 L2196 1444.4 L2200 1444.5 L2204 1445.0 L2208 1446.0 L2212 1447.2 L2217 1448.3 L2221 1448.9 L2225 1449.8 L2229 1450.7 L2233 1451.4 L2237 1451.8 L2241 1452.0 L2246 1452.1 L2250 1452.1" stroke="#ff6d00" stroke-width="2" fill="none" stroke-linejoin="round"/>
</g>
<rect x="20" y="54" width="2560" height="1520" fill="none" stroke="#e9edf3" stroke-width="2"/>
<path d="M20 1185H2580M20 1359H2580M20 1519H2580M2473 54V1574" stroke="#484848" stroke-width="2" fill="none"/>
<text x="2491.5" y="133" font-size="22" fill="#555" text-anchor="start" textLength="54" lengthAdjust="spacingAndGlyphs" font-family="Liberation Sans, Arial, sans-serif" stroke="#555" stroke-width="0.15">1.450</text>
<text x="2491.5" y="195" font-size="22" fill="#555" text-anchor="start" textLength="54" lengthAdjust="spacingAndGlyphs" font-family="Liberation Sans, Arial, sans-serif" stroke="#555" stroke-width="0.15">1.400</text>
<text x="2491.5" y="258" font-size="22" fill="#555" text-anchor="start" textLength="54" lengthAdjust="spacingAndGlyphs" font-family="Liberation Sans, Arial, sans-serif" stroke="#555" stroke-width="0.15">1.350</text>
<text x="2491.5" y="320" font-size="22" fill="#555" text-anchor="start" textLength="54" lengthAdjust="spacingAndGlyphs" font-family="Liberation Sans, Arial, sans-serif" stroke="#555" stroke-width="0.15">1.300</text>
<text x="2491.5" y="383" font-size="22" fill="#555" text-anchor="start" textLength="54" lengthAdjust="spacingAndGlyphs" font-family="Liberation Sans, Arial, sans-serif" stroke="#555" stroke-width="0.15">1.250</text>
<text x="2491.5" y="445" font-size="22" fill="#555" text-anchor="start" textLength="54" lengthAdjust="spacingAndGlyphs" font-family="Liberation Sans, Arial, sans-serif" stroke="#555" stroke-width="0.15">1.200</text>
<text x="2491.5" y="508" font-size="22" fill="#555" text-anchor="start" textLength="54" lengthAdjust="spacingAndGlyphs" font-family="Liberation Sans, Arial, sans-serif" stroke="#555" stroke-width="0.15">1.150</text>
<text x="2491.5" y="570" font-size="22" fill="#555" text-anchor="start" textLength="54" lengthAdjust="spacingAndGlyphs" font-family="Liberation Sans, Arial, sans-serif" stroke="#555" stroke-width="0.15">1.100</text>
<text x="2491.5" y="633" font-size="22" fill="#555" text-anchor="start" textLength="54" lengthAdjust="spacingAndGlyphs" font-family="Liberation Sans, Arial, sans-serif" stroke="#555" stroke-width="0.15">1.050</text>
<text x="2491.5" y="696" font-size="22" fill="#555" text-anchor="start" textLength="54" lengthAdjust="spacingAndGlyphs" font-family="Liberation Sans, Arial, sans-serif" stroke="#555" stroke-width="0.15">1.000</text>
<text x="2491.5" y="758" font-size="22" fill="#555" text-anchor="start" textLength="54" lengthAdjust="spacingAndGlyphs" font-family="Liberation Sans, Arial, sans-serif" stroke="#555" stroke-width="0.15">0.950</text>
<text x="2491.5" y="821" font-size="22" fill="#555" text-anchor="start" textLength="54" lengthAdjust="spacingAndGlyphs" font-family="Liberation Sans, Arial, sans-serif" stroke="#555" stroke-width="0.15">0.900</text>
<text x="2491.5" y="883" font-size="22" fill="#555" text-anchor="start" textLength="54" lengthAdjust="spacingAndGlyphs" font-family="Liberation Sans, Arial, sans-serif" stroke="#555" stroke-width="0.15">0.850</text>
<text x="2491.5" y="946" font-size="22" fill="#555" text-anchor="start" textLength="54" lengthAdjust="spacingAndGlyphs" font-family="Liberation Sans, Arial, sans-serif" stroke="#555" stroke-width="0.15">0.800</text>
<text x="2491.5" y="1008" font-size="22" fill="#555" text-anchor="start" textLength="54" lengthAdjust="spacingAndGlyphs" font-family="Liberation Sans, Arial, sans-serif" stroke="#555" stroke-width="0.15">0.750</text>
<text x="2491.5" y="1071" font-size="22" fill="#555" text-anchor="start" textLength="54" lengthAdjust="spacingAndGlyphs" font-family="Liberation Sans, Arial, sans-serif" stroke="#555" stroke-width="0.15">0.700</text>
<text x="2491.5" y="1133" font-size="22" fill="#555" text-anchor="start" textLength="54" lengthAdjust="spacingAndGlyphs" font-family="Liberation Sans, Arial, sans-serif" stroke="#555" stroke-width="0.15">0.650</text>
<text x="2491.5" y="1233" font-size="22" fill="#555" text-anchor="start" textLength="54" lengthAdjust="spacingAndGlyphs" font-family="Liberation Sans, Arial, sans-serif" stroke="#555" stroke-width="0.15">80.00</text>
<text x="2491.5" y="1294" font-size="22" fill="#555" text-anchor="start" textLength="54" lengthAdjust="spacingAndGlyphs" font-family="Liberation Sans, Arial, sans-serif" stroke="#555" stroke-width="0.15">40.00</text>
<text x="2491.5" y="1355" font-size="22" fill="#555" text-anchor="start" textLength="42" lengthAdjust="spacingAndGlyphs" font-family="Liberation Sans, Arial, sans-serif" stroke="#555" stroke-width="0.15">0.00</text>
<text x="2491.5" y="1453" font-size="22" fill="#555" text-anchor="start" textLength="54" lengthAdjust="spacingAndGlyphs" font-family="Liberation Sans, Arial, sans-serif" stroke="#555" stroke-width="0.15">0.000</text>
<path d="M2472 54H2558V74a4 4 0 0 1 -4 4H2472z" fill="#9575cd"/>
<text x="2491.5" y="70" font-size="22" fill="#fff" text-anchor="start" textLength="54" lengthAdjust="spacingAndGlyphs" font-family="Liberation Sans, Arial, sans-serif" stroke="#fff" stroke-width="0.15">1.500</text>
<rect x="2499" y="67" width="54" height="34" rx="8" fill="#fff" stroke="#cfd5e0" stroke-width="2"/>
<text x="2526" y="92" font-size="22" fill="#555" text-anchor="middle" textLength="37" lengthAdjust="spacingAndGlyphs" font-family="Liberation Sans, Arial, sans-serif" stroke="#555" stroke-width="0.15">USD</text>
<path d="M2472 523H2554a4 4 0 0 1 4 4V551a4 4 0 0 1 -4 4H2472z" fill="#ff0000"/>
<text x="2491.5" y="547" font-size="22" fill="#fff" text-anchor="start" textLength="54" lengthAdjust="spacingAndGlyphs" font-family="Liberation Sans, Arial, sans-serif" stroke="#fff" stroke-width="0.15">1.119</text>
<path d="M2472 589H2554a4 4 0 0 1 4 4V617a4 4 0 0 1 -4 4H2472z" fill="#eb4d5c"/>
<text x="2491.5" y="613" font-size="22" fill="#fff" text-anchor="start" textLength="54" lengthAdjust="spacingAndGlyphs" font-family="Liberation Sans, Arial, sans-serif" stroke="#fff" stroke-width="0.15">1.066</text>
<path d="M2472 672H2554a4 4 0 0 1 4 4V700a4 4 0 0 1 -4 4H2472z" fill="#388e3c"/>
<text x="2491.5" y="696" font-size="22" fill="#fff" text-anchor="start" textLength="54" lengthAdjust="spacingAndGlyphs" font-family="Liberation Sans, Arial, sans-serif" stroke="#fff" stroke-width="0.15">1.000</text>
<path d="M2472 922H2554a4 4 0 0 1 4 4V950a4 4 0 0 1 -4 4H2472z" fill="#2196f3"/>
<text x="2491.5" y="946" font-size="22" fill="#fff" text-anchor="start" textLength="54" lengthAdjust="spacingAndGlyphs" font-family="Liberation Sans, Arial, sans-serif" stroke="#fff" stroke-width="0.15">0.800</text>
<path d="M2472 1047H2554a4 4 0 0 1 4 4V1075a4 4 0 0 1 -4 4H2472z" fill="#ff9800"/>
<text x="2491.5" y="1071" font-size="22" fill="#000" text-anchor="start" textLength="54" lengthAdjust="spacingAndGlyphs" font-family="Liberation Sans, Arial, sans-serif" stroke="#000" stroke-width="0.15">0.700</text>
<text x="53" y="1554" font-size="22" fill="#555" text-anchor="middle" font-weight="bold" textLength="37.5" lengthAdjust="spacingAndGlyphs" font-family="Liberation Sans, Arial, sans-serif">Aug</text>
<text x="252" y="1554" font-size="22" fill="#555" text-anchor="middle" font-family="Liberation Sans, Arial, sans-serif" stroke="#555" stroke-width="0.15">5</text>
<text x="451" y="1554" font-size="22" fill="#555" text-anchor="middle" font-family="Liberation Sans, Arial, sans-serif" stroke="#555" stroke-width="0.15">9</text>
<text x="625" y="1554" font-size="22" fill="#555" text-anchor="middle" textLength="53" lengthAdjust="spacingAndGlyphs" font-family="Liberation Sans, Arial, sans-serif" stroke="#555" stroke-width="0.15">13:00</text>
<text x="799" y="1554" font-size="22" fill="#555" text-anchor="middle" font-family="Liberation Sans, Arial, sans-serif" stroke="#555" stroke-width="0.15">16</text>
<text x="973" y="1554" font-size="22" fill="#555" text-anchor="middle" textLength="53" lengthAdjust="spacingAndGlyphs" font-family="Liberation Sans, Arial, sans-serif" stroke="#555" stroke-width="0.15">13:00</text>
<text x="1147" y="1554" font-size="22" fill="#555" text-anchor="middle" font-family="Liberation Sans, Arial, sans-serif" stroke="#555" stroke-width="0.15">23</text>
<text x="1346" y="1554" font-size="22" fill="#555" text-anchor="middle" font-family="Liberation Sans, Arial, sans-serif" stroke="#555" stroke-width="0.15">27</text>
<text x="1595" y="1554" font-size="22" fill="#555" text-anchor="middle" font-weight="bold" textLength="36" lengthAdjust="spacingAndGlyphs" font-family="Liberation Sans, Arial, sans-serif">Sep</text>
<text x="1844" y="1554" font-size="22" fill="#555" text-anchor="middle" font-family="Liberation Sans, Arial, sans-serif" stroke="#555" stroke-width="0.15">6</text>
<text x="2018" y="1554" font-size="22" fill="#555" text-anchor="middle" textLength="53" lengthAdjust="spacingAndGlyphs" font-family="Liberation Sans, Arial, sans-serif" stroke="#555" stroke-width="0.15">13:00</text>
<text x="2192" y="1554" font-size="22" fill="#555" text-anchor="middle" font-family="Liberation Sans, Arial, sans-serif" stroke="#555" stroke-width="0.15">13</text>
<text x="2366" y="1554" font-size="22" fill="#555" text-anchor="middle" textLength="53" lengthAdjust="spacingAndGlyphs" font-family="Liberation Sans, Arial, sans-serif" stroke="#555" stroke-width="0.15">13:00</text>
<text x="20" y="42.1" font-size="24.5" fill="#131722" text-anchor="start" textLength="63.9" lengthAdjust="spacingAndGlyphs" font-family="Liberation Sans, Arial, sans-serif" stroke="#131722" stroke-width="0.6">FilFox</text>
<text x="90.6" y="42.1" font-size="24.5" fill="#131722" text-anchor="start" textLength="102.3" lengthAdjust="spacingAndGlyphs" font-family="Liberation Sans, Arial, sans-serif" stroke="#131722" stroke-width="0.6">published</text>
<text x="200.9" y="42.1" font-size="24.5" fill="#131722" text-anchor="start" textLength="26.3" lengthAdjust="spacingAndGlyphs" font-family="Liberation Sans, Arial, sans-serif" stroke="#131722" stroke-width="0.6">on</text>
<text x="233.2" y="42.1" font-size="24.5" fill="#131722" text-anchor="start" textLength="189.2" lengthAdjust="spacingAndGlyphs" font-family="Liberation Sans, Arial, sans-serif" stroke="#131722" stroke-width="0.6">TradingView.com,</text>
<text x="431" y="42.1" font-size="24.5" fill="#131722" text-anchor="start" textLength="38.8" lengthAdjust="spacingAndGlyphs" font-family="Liberation Sans, Arial, sans-serif" stroke="#131722" stroke-width="0.6">Sep</text>
<text x="478.4" y="42.1" font-size="24.5" fill="#131722" text-anchor="start" textLength="30.6" lengthAdjust="spacingAndGlyphs" font-family="Liberation Sans, Arial, sans-serif" stroke="#131722" stroke-width="0.6">14,</text>
<text x="517.6" y="42.1" font-size="24.5" fill="#131722" text-anchor="start" textLength="49.4" lengthAdjust="spacingAndGlyphs" font-family="Liberation Sans, Arial, sans-serif" stroke="#131722" stroke-width="0.6">2021</text>
<text x="35.2" y="95.8" font-size="24" fill="#4a4a4a" text-anchor="start" textLength="91.1" lengthAdjust="spacingAndGlyphs" font-family="Liberation Sans, Arial, sans-serif" stroke="#4a4a4a" stroke-width="0.3">XRPUSD,</text>
<text x="133.6" y="95.8" font-size="24" fill="#4a4a4a" text-anchor="start" textLength="33.8" lengthAdjust="spacingAndGlyphs" font-family="Liberation Sans, Arial, sans-serif" stroke="#4a4a4a" stroke-width="0.3">2h,</text>
<text x="176.2" y="95.8" font-size="24" fill="#4a4a4a" text-anchor="start" textLength="101.7" lengthAdjust="spacingAndGlyphs" font-family="Liberation Sans, Arial, sans-serif" stroke="#4a4a4a" stroke-width="0.3">BITSTAMP</text>
<text x="291.8" y="95.8" font-size="24" fill="#4a4a4a" text-anchor="start" textLength="18.2" lengthAdjust="spacingAndGlyphs" font-family="Liberation Sans, Arial, sans-serif" stroke="#4a4a4a" stroke-width="0.3">O</text>
<text x="382" y="95.8" font-size="24" fill="#4a4a4a" text-anchor="start" textLength="18" lengthAdjust="spacingAndGlyphs" font-family="Liberation Sans, Arial, sans-serif" stroke="#4a4a4a" stroke-width="0.3">H</text>
<text x="471.7" y="95.8" font-size="24" fill="#4a4a4a" text-anchor="start" textLength="12.3" lengthAdjust="spacingAndGlyphs" font-family="Liberation Sans, Arial, sans-serif" stroke="#4a4a4a" stroke-width="0.3">L</text>
<text x="557" y="95.8" font-size="24" fill="#4a4a4a" text-anchor="start" textLength="15.5" lengthAdjust="spacingAndGlyphs" font-family="Liberation Sans, Arial, sans-serif" stroke="#4a4a4a" stroke-width="0.3">C</text>
<text x="310" y="95.8" font-size="24" fill="#eb4d5c" text-anchor="start" textLength="57.6" lengthAdjust="spacingAndGlyphs" font-family="Liberation Sans, Arial, sans-serif" stroke="#eb4d5c" stroke-width="0.3">1.072</text>
<text x="398.7" y="95.8" font-size="24" fill="#eb4d5c" text-anchor="start" textLength="58.6" lengthAdjust="spacingAndGlyphs" font-family="Liberation Sans, Arial, sans-serif" stroke="#eb4d5c" stroke-width="0.3">1.073</text>
<text x="484.3" y="95.8" font-size="24" fill="#eb4d5c" text-anchor="start" textLength="58.7" lengthAdjust="spacingAndGlyphs" font-family="Liberation Sans, Arial, sans-serif" stroke="#eb4d5c" stroke-width="0.3">1.066</text>
<text x="572.1" y="95.8" font-size="24" fill="#eb4d5c" text-anchor="start" textLength="58.9" lengthAdjust="spacingAndGlyphs" font-family="Liberation Sans, Arial, sans-serif" stroke="#eb4d5c" stroke-width="0.3">1.066</text>
<text x="645.6" y="95.8" font-size="24" fill="#eb4d5c" text-anchor="start" textLength="73.4" lengthAdjust="spacingAndGlyphs" font-family="Liberation Sans, Arial, sans-serif" stroke="#eb4d5c" stroke-width="0.3">−0.005</text>
<text x="726" y="95.8" font-size="24" fill="#eb4d5c" text-anchor="start" textLength="89.8" lengthAdjust="spacingAndGlyphs" font-family="Liberation Sans, Arial, sans-serif" stroke="#eb4d5c" stroke-width="0.3">(−0.51%)</text>
<text x="35.8" y="130" font-size="24" fill="#4a4a4a" text-anchor="start" textLength="56.2" lengthAdjust="spacingAndGlyphs" font-family="Liberation Sans, Arial, sans-serif" stroke="#4a4a4a" stroke-width="0.3">VPVR</text>
<text x="99.4" y="130" font-size="24" fill="#4a4a4a" text-anchor="start" textLength="88.5" lengthAdjust="spacingAndGlyphs" font-family="Liberation Sans, Arial, sans-serif" stroke="#4a4a4a" stroke-width="0.3">(Number</text>
<text x="198" y="130" font-size="24" fill="#4a4a4a" text-anchor="start" textLength="25.4" lengthAdjust="spacingAndGlyphs" font-family="Liberation Sans, Arial, sans-serif" stroke="#4a4a4a" stroke-width="0.3">Of</text>
<text x="230.8" y="130" font-size="24" fill="#4a4a4a" text-anchor="start" textLength="59.9" lengthAdjust="spacingAndGlyphs" font-family="Liberation Sans, Arial, sans-serif" stroke="#4a4a4a" stroke-width="0.3">Rows,</text>
<text x="299.9" y="130" font-size="24" fill="#4a4a4a" text-anchor="start" textLength="46.8" lengthAdjust="spacingAndGlyphs" font-family="Liberation Sans, Arial, sans-serif" stroke="#4a4a4a" stroke-width="0.3">120,</text>
<text x="354" y="130" font-size="24" fill="#4a4a4a" text-anchor="start" textLength="109.3" lengthAdjust="spacingAndGlyphs" font-family="Liberation Sans, Arial, sans-serif" stroke="#4a4a4a" stroke-width="0.3">Up/Down,</text>
<text x="470.7" y="130" font-size="24" fill="#4a4a4a" text-anchor="start" textLength="34.1" lengthAdjust="spacingAndGlyphs" font-family="Liberation Sans, Arial, sans-serif" stroke="#4a4a4a" stroke-width="0.3">70)</text>
<text x="35.8" y="163.7" font-size="24" fill="#4a4a4a" text-anchor="start" textLength="33.2" lengthAdjust="spacingAndGlyphs" font-family="Liberation Sans, Arial, sans-serif" stroke="#4a4a4a" stroke-width="0.3">Vol</text>
<text x="76.3" y="163.7" font-size="24" fill="#4a4a4a" text-anchor="start" textLength="41.9" lengthAdjust="spacingAndGlyphs" font-family="Liberation Sans, Arial, sans-serif" stroke="#4a4a4a" stroke-width="0.3">(20)</text>
<text x="133" y="163.7" font-size="24" fill="#ef4444" text-anchor="start" textLength="99" lengthAdjust="spacingAndGlyphs" font-family="Liberation Sans, Arial, sans-serif" stroke="#ef4444" stroke-width="0.3">103.527K</text>
<text x="246.4" y="163.7" font-size="24" fill="#ff9850" text-anchor="start" textLength="76.0" lengthAdjust="spacingAndGlyphs" font-family="Liberation Sans, Arial, sans-serif" stroke="#ff9850" stroke-width="0.3">1.949M</text>
<text x="35.8" y="197.4" font-size="24" fill="#4a4a4a" text-anchor="start" textLength="83.0" lengthAdjust="spacingAndGlyphs" font-family="Liberation Sans, Arial, sans-serif" stroke="#4a4a4a" stroke-width="0.3">Colored</text>
<text x="126.1" y="197.4" font-size="24" fill="#4a4a4a" text-anchor="start" textLength="44.4" lengthAdjust="spacingAndGlyphs" font-family="Liberation Sans, Arial, sans-serif" stroke="#4a4a4a" stroke-width="0.3">EMA</text>
<text x="177.2" y="197.4" font-size="24" fill="#4a4a4a" text-anchor="start" textLength="54.3" lengthAdjust="spacingAndGlyphs" font-family="Liberation Sans, Arial, sans-serif" stroke="#4a4a4a" stroke-width="0.3">/SMA</text>
<text x="237.6" y="197.4" font-size="24" fill="#4a4a4a" text-anchor="start" textLength="40.7" lengthAdjust="spacingAndGlyphs" font-family="Liberation Sans, Arial, sans-serif" stroke="#4a4a4a" stroke-width="0.3">(55,</text>
<text x="286.8" y="197.4" font-size="24" fill="#4a4a4a" text-anchor="start" textLength="20.7" lengthAdjust="spacingAndGlyphs" font-family="Liberation Sans, Arial, sans-serif" stroke="#4a4a4a" stroke-width="0.3">8)</text>
<text x="323.8" y="197.4" font-size="24" fill="#ff0000" text-anchor="start" textLength="58.4" lengthAdjust="spacingAndGlyphs" font-family="Liberation Sans, Arial, sans-serif" stroke="#ff0000" stroke-width="0.3">1.094</text>
<text x="35.6" y="1227.2" font-size="24" fill="#4a4a4a" text-anchor="start" textLength="58.5" lengthAdjust="spacingAndGlyphs" font-family="Liberation Sans, Arial, sans-serif" stroke="#4a4a4a" stroke-width="0.3">Stoch</text>
<text x="103.1" y="1227.2" font-size="24" fill="#4a4a4a" text-anchor="start" textLength="31.1" lengthAdjust="spacingAndGlyphs" font-family="Liberation Sans, Arial, sans-serif" stroke="#4a4a4a" stroke-width="0.3">RSI</text>
<text x="143.2" y="1227.2" font-size="24" fill="#4a4a4a" text-anchor="start" textLength="26.3" lengthAdjust="spacingAndGlyphs" font-family="Liberation Sans, Arial, sans-serif" stroke="#4a4a4a" stroke-width="0.3">(3,</text>
<text x="177.8" y="1227.2" font-size="24" fill="#4a4a4a" text-anchor="start" textLength="19.7" lengthAdjust="spacingAndGlyphs" font-family="Liberation Sans, Arial, sans-serif" stroke="#4a4a4a" stroke-width="0.3">3,</text>
<text x="210" y="1227.2" font-size="24" fill="#4a4a4a" text-anchor="start" textLength="28" lengthAdjust="spacingAndGlyphs" font-family="Liberation Sans, Arial, sans-serif" stroke="#4a4a4a" stroke-width="0.3">14,</text>
<text x="249.5" y="1227.2" font-size="24" fill="#4a4a4a" text-anchor="start" textLength="30.0" lengthAdjust="spacingAndGlyphs" font-family="Liberation Sans, Arial, sans-serif" stroke="#4a4a4a" stroke-width="0.3">14,</text>
<text x="291" y="1227.2" font-size="24" fill="#4a4a4a" text-anchor="start" textLength="60.2" lengthAdjust="spacingAndGlyphs" font-family="Liberation Sans, Arial, sans-serif" stroke="#4a4a4a" stroke-width="0.3">close)</text>
<text x="368.9" y="1227.2" font-size="24" fill="#2196f3" text-anchor="start" textLength="58.0" lengthAdjust="spacingAndGlyphs" font-family="Liberation Sans, Arial, sans-serif" stroke="#2196f3" stroke-width="0.3">55.64</text>
<text x="440.5" y="1227.2" font-size="24" fill="#ff6d00" text-anchor="start" textLength="59.1" lengthAdjust="spacingAndGlyphs" font-family="Liberation Sans, Arial, sans-serif" stroke="#ff6d00" stroke-width="0.3">48.12</text>
<text x="35.1" y="1400.9" font-size="24" fill="#4a4a4a" text-anchor="start" textLength="61.0" lengthAdjust="spacingAndGlyphs" font-family="Liberation Sans, Arial, sans-serif" stroke="#4a4a4a" stroke-width="0.3">MACD</text>
<text x="104.2" y="1400.9" font-size="24" fill="#4a4a4a" text-anchor="start" textLength="40.1" lengthAdjust="spacingAndGlyphs" font-family="Liberation Sans, Arial, sans-serif" stroke="#4a4a4a" stroke-width="0.3">(12,</text>
<text x="152.9" y="1400.9" font-size="24" fill="#4a4a4a" text-anchor="start" textLength="32.9" lengthAdjust="spacingAndGlyphs" font-family="Liberation Sans, Arial, sans-serif" stroke="#4a4a4a" stroke-width="0.3">26,</text>
<text x="193.9" y="1400.9" font-size="24" fill="#4a4a4a" text-anchor="start" textLength="62.6" lengthAdjust="spacingAndGlyphs" font-family="Liberation Sans, Arial, sans-serif" stroke="#4a4a4a" stroke-width="0.3">close,</text>
<text x="264.6" y="1400.9" font-size="24" fill="#4a4a4a" text-anchor="start" textLength="22.2" lengthAdjust="spacingAndGlyphs" font-family="Liberation Sans, Arial, sans-serif" stroke="#4a4a4a" stroke-width="0.3">9)</text>
<text x="300.5" y="1400.9" font-size="24" fill="#26a69a" text-anchor="start" textLength="59.6" lengthAdjust="spacingAndGlyphs" font-family="Liberation Sans, Arial, sans-serif" stroke="#26a69a" stroke-width="0.3">0.000</text>
<text x="374.5" y="1400.9" font-size="24" fill="#2196f3" text-anchor="start" textLength="71.5" lengthAdjust="spacingAndGlyphs" font-family="Liberation Sans, Arial, sans-serif" stroke="#2196f3" stroke-width="0.3">−0.007</text>
<text x="460.8" y="1400.9" font-size="24" fill="#ff6d00" text-anchor="start" textLength="71.5" lengthAdjust="spacingAndGlyphs" font-family="Liberation Sans, Arial, sans-serif" stroke="#ff6d00" stroke-width="0.3">−0.007</text>
<path d="M20 1598.2H35.1V1617.4H27.6V1606H20z M49.7 1598.2H59.2L51.6 1617.4H42.25z" fill="#131722"/><circle cx="42.25" cy="1602.5" r="4.4" fill="#131722"/>
<text x="65.5" y="1617.4" font-size="26" fill="#131722" text-anchor="start" textLength="141.5" lengthAdjust="spacingAndGlyphs" font-family="Liberation Sans, Arial, sans-serif" stroke="#131722" stroke-width="0.6">TradingView</text>
</svg>
</body></html>
